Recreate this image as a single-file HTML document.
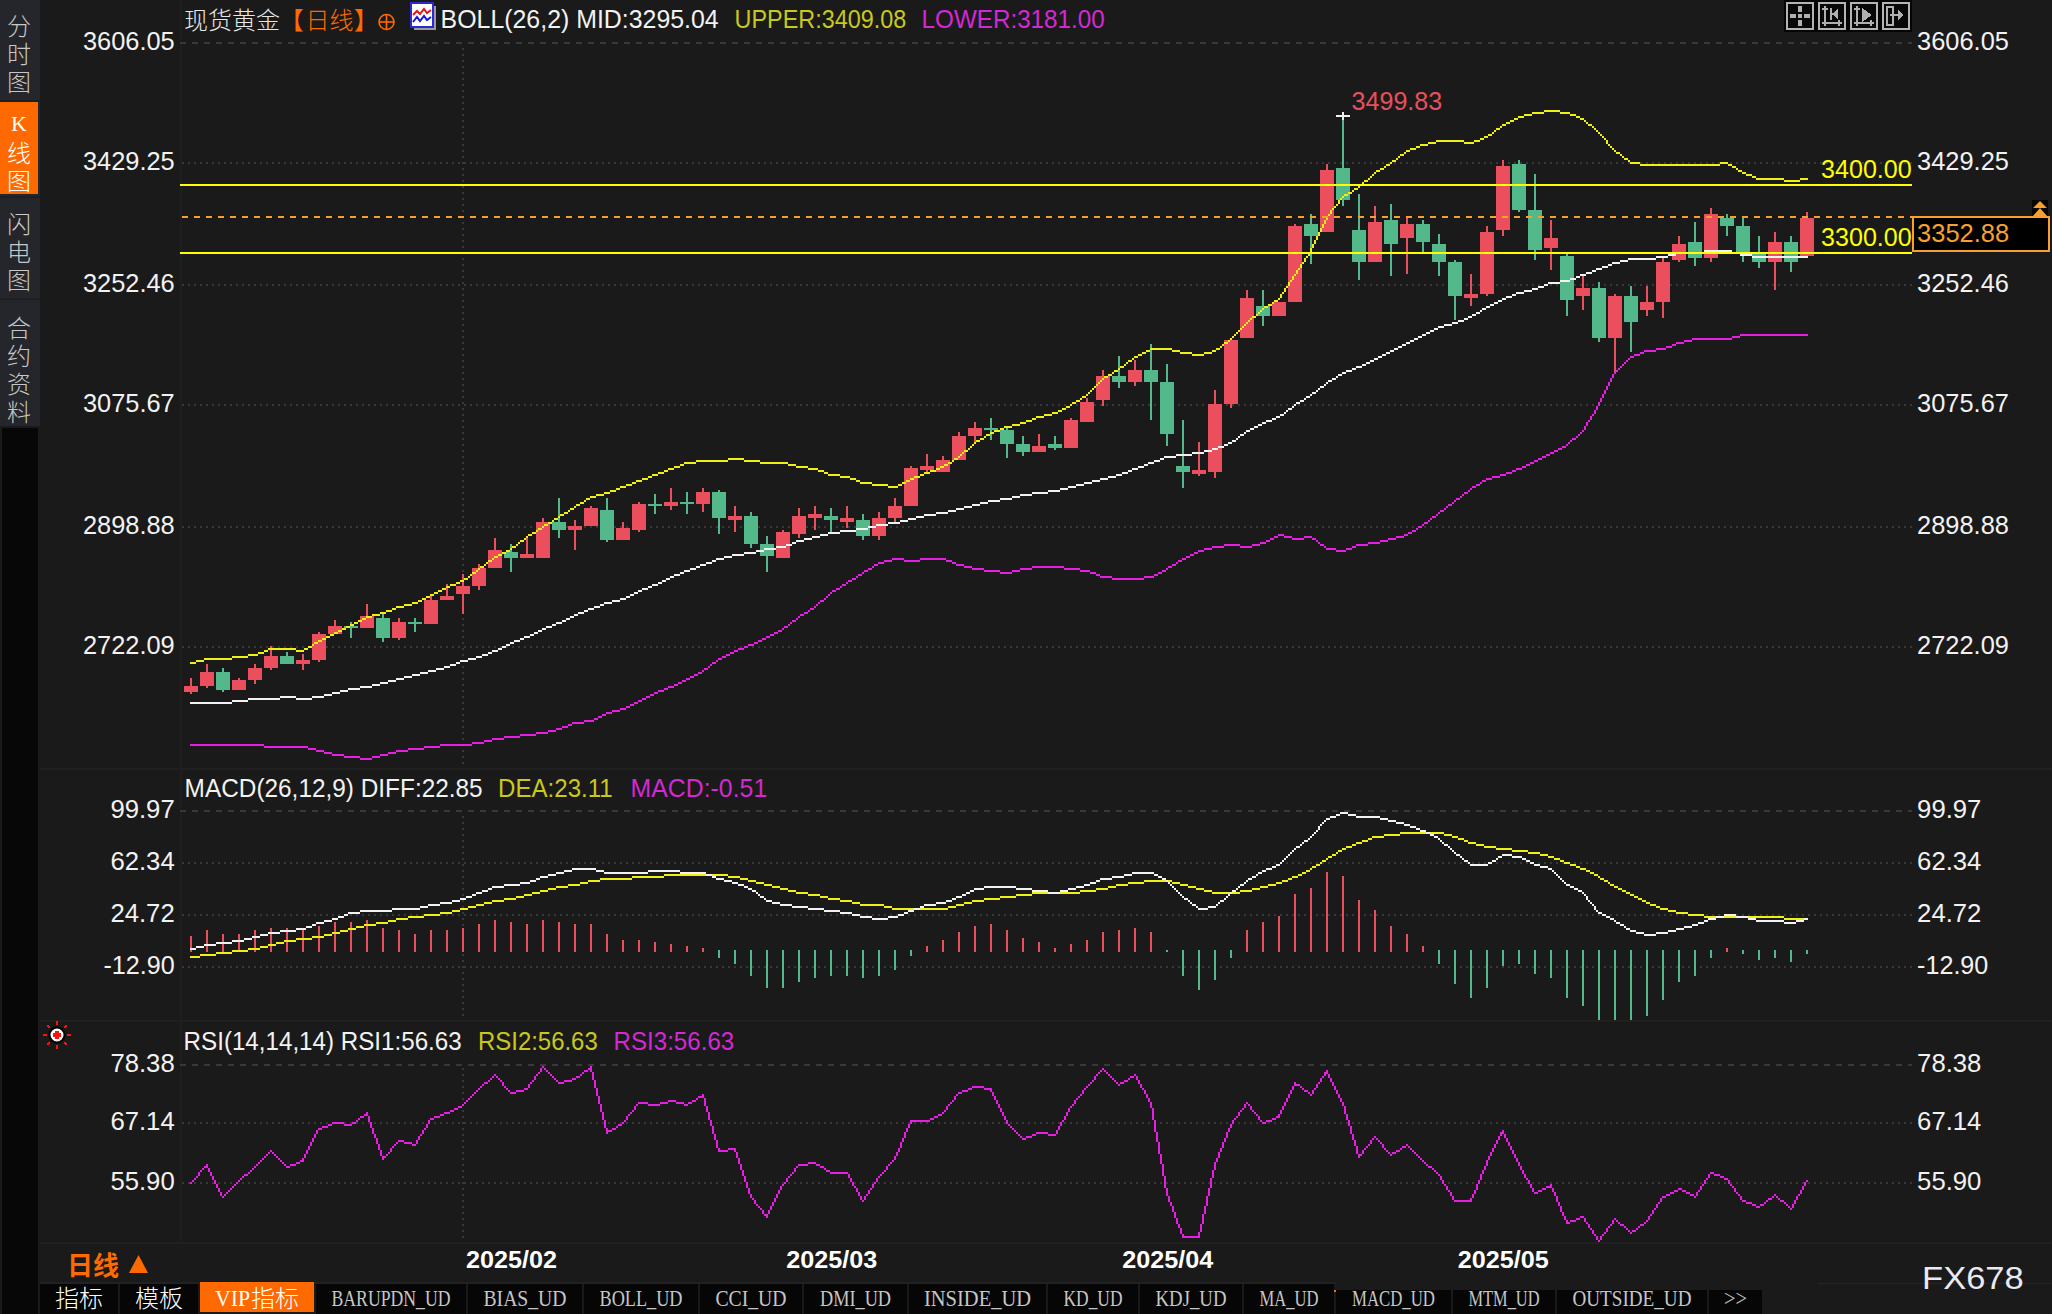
<!DOCTYPE html>
<html lang="zh-CN"><head><meta charset="utf-8"><title>现货黄金 日线</title>
<style>
html,body{margin:0;padding:0;background:#1a1a1a;}
#app{position:relative;width:2052px;height:1314px;overflow:hidden;background:#1a1a1a;font-family:'Liberation Sans', 'Noto Sans CJK SC', sans-serif;}
#side{position:absolute;left:0;top:0;width:40px;height:426px;background:#24262b;}
.sv{position:absolute;left:0;width:38px;text-align:center;color:#c8c8c8;font-size:24px;line-height:28px;font-weight:300;font-family:'Liberation Sans', 'Noto Sans CJK SC', sans-serif;}
.sv.on{background:#ff6a00;color:#fff;}
.sep{position:absolute;left:0;width:40px;height:2px;background:#1d1f23;}
#blk{position:absolute;left:2px;top:428px;width:36px;height:886px;background:#070707;}
.tab{position:absolute;box-sizing:border-box;text-align:center;white-space:nowrap;overflow:hidden;background:#060606;}
.tw{color:#fff;font-size:24px;font-family:'Liberation Sans', 'Noto Sans CJK SC', sans-serif;font-weight:300;}
.to{color:#fff;font-size:24px;background:#ff6a00;font-family:'Liberation Mono', 'Noto Sans CJK SC', monospace;font-weight:300;letter-spacing:-2.4px;}
.to b{font-weight:300;letter-spacing:0;font-family:'Liberation Sans', 'Noto Sans CJK SC', sans-serif;}
.tg{color:#c4c4c4;font-size:24px;font-family:'Liberation Mono', 'Noto Sans CJK SC', monospace;letter-spacing:-2.4px;}
#tabline{position:absolute;left:40px;top:1282px;width:1296px;height:2px;background:#222;}
</style></head><body>
<div id="app">
<div id="side">
<div class="sv" style="top:13px;height:85px">分<br>时<br>图</div>
<div class="sep" style="top:100px"></div>
<div class="sv on" style="top:102px;height:92px;padding-top:0"><span style="font-family:'Liberation Serif',serif;font-size:22px;line-height:43px;display:block;height:36px">K</span><div style="position:relative;top:2px">线<br>图</div></div>
<div class="sep" style="top:196px"></div>
<div class="sv" style="top:211px;height:85px">闪<br>电<br>图</div>
<div class="sep" style="top:298px"></div>
<div class="sv" style="top:315px;height:111px">合<br>约<br>资<br>料</div>
</div>
<div id="blk"></div>
<svg width="2052" height="1314" viewBox="0 0 2052 1314" style="position:absolute;left:0;top:0">
<g fill="#202020">
<rect x="40" y="768" width="2012" height="2"/>
<rect x="40" y="1020" width="2012" height="2"/>
<rect x="40" y="1242" width="2012" height="2"/>
<rect x="180" y="0" width="2" height="1244" fill="#1e1e1e"/>
</g>
<g stroke="#3a3a3a" stroke-width="2" fill="none" shape-rendering="crispEdges">
<line x1="180" y1="43" x2="1912" y2="43" stroke-dasharray="6 6" stroke="#383838"/>
<line x1="180" y1="811" x2="1912" y2="811" stroke-dasharray="6 6" stroke="#383838"/>
<line x1="180" y1="1065" x2="1912" y2="1065" stroke-dasharray="6 6" stroke="#383838"/>
<line x1="182" y1="163" x2="1912" y2="163" stroke-dasharray="2 4" stroke="#383838"/>
<line x1="182" y1="285" x2="1912" y2="285" stroke-dasharray="2 4" stroke="#383838"/>
<line x1="182" y1="405" x2="1912" y2="405" stroke-dasharray="2 4" stroke="#383838"/>
<line x1="182" y1="527" x2="1912" y2="527" stroke-dasharray="2 4" stroke="#383838"/>
<line x1="182" y1="647" x2="1912" y2="647" stroke-dasharray="2 4" stroke="#383838"/>
<line x1="182" y1="863" x2="1912" y2="863" stroke-dasharray="2 4" stroke="#383838"/>
<line x1="182" y1="915" x2="1912" y2="915" stroke-dasharray="2 4" stroke="#383838"/>
<line x1="182" y1="967" x2="1912" y2="967" stroke-dasharray="2 4" stroke="#383838"/>
<line x1="182" y1="1123" x2="1912" y2="1123" stroke-dasharray="2 4" stroke="#383838"/>
<line x1="182" y1="1183" x2="1912" y2="1183" stroke-dasharray="2 4" stroke="#383838"/>
<line x1="463" y1="48" x2="463" y2="764" stroke-dasharray="2 4" stroke="#383838"/>
<line x1="463" y1="816" x2="463" y2="1018" stroke-dasharray="2 4" stroke="#383838"/>
<line x1="463" y1="1068" x2="463" y2="1242" stroke-dasharray="2 4" stroke="#383838"/>
</g>
<g shape-rendering="crispEdges">
<rect x="190" y="678" width="2" height="16" fill="#eb4f5d"/>
<rect x="184" y="686" width="14" height="6" fill="#eb4f5d"/>
<rect x="206" y="664" width="2" height="24" fill="#eb4f5d"/>
<rect x="200" y="672" width="14" height="14" fill="#eb4f5d"/>
<rect x="222" y="668" width="2" height="24" fill="#53b98b"/>
<rect x="216" y="672" width="14" height="18" fill="#53b98b"/>
<rect x="238" y="678" width="2" height="12" fill="#eb4f5d"/>
<rect x="232" y="680" width="14" height="10" fill="#eb4f5d"/>
<rect x="254" y="664" width="2" height="20" fill="#eb4f5d"/>
<rect x="248" y="668" width="14" height="12" fill="#eb4f5d"/>
<rect x="270" y="646" width="2" height="24" fill="#eb4f5d"/>
<rect x="264" y="656" width="14" height="12" fill="#eb4f5d"/>
<rect x="286" y="652" width="2" height="12" fill="#53b98b"/>
<rect x="280" y="656" width="14" height="8" fill="#53b98b"/>
<rect x="302" y="654" width="2" height="16" fill="#eb4f5d"/>
<rect x="296" y="660" width="14" height="4" fill="#eb4f5d"/>
<rect x="318" y="632" width="2" height="30" fill="#eb4f5d"/>
<rect x="312" y="634" width="14" height="26" fill="#eb4f5d"/>
<rect x="334" y="620" width="2" height="14" fill="#eb4f5d"/>
<rect x="328" y="626" width="14" height="8" fill="#eb4f5d"/>
<rect x="350" y="622" width="2" height="16" fill="#53b98b"/>
<rect x="344" y="626" width="14" height="2" fill="#53b98b"/>
<rect x="366" y="604" width="2" height="24" fill="#eb4f5d"/>
<rect x="360" y="616" width="14" height="12" fill="#eb4f5d"/>
<rect x="382" y="614" width="2" height="28" fill="#53b98b"/>
<rect x="376" y="618" width="14" height="20" fill="#53b98b"/>
<rect x="398" y="618" width="2" height="22" fill="#eb4f5d"/>
<rect x="392" y="622" width="14" height="16" fill="#eb4f5d"/>
<rect x="414" y="618" width="2" height="14" fill="#53b98b"/>
<rect x="408" y="622" width="14" height="2" fill="#53b98b"/>
<rect x="430" y="596" width="2" height="28" fill="#eb4f5d"/>
<rect x="424" y="600" width="14" height="24" fill="#eb4f5d"/>
<rect x="446" y="584" width="2" height="16" fill="#eb4f5d"/>
<rect x="440" y="596" width="14" height="4" fill="#eb4f5d"/>
<rect x="462" y="574" width="2" height="40" fill="#eb4f5d"/>
<rect x="456" y="586" width="14" height="8" fill="#eb4f5d"/>
<rect x="478" y="564" width="2" height="26" fill="#eb4f5d"/>
<rect x="472" y="568" width="14" height="18" fill="#eb4f5d"/>
<rect x="494" y="538" width="2" height="30" fill="#eb4f5d"/>
<rect x="488" y="550" width="14" height="18" fill="#eb4f5d"/>
<rect x="510" y="544" width="2" height="28" fill="#53b98b"/>
<rect x="504" y="552" width="14" height="6" fill="#53b98b"/>
<rect x="526" y="536" width="2" height="22" fill="#eb4f5d"/>
<rect x="520" y="554" width="14" height="4" fill="#eb4f5d"/>
<rect x="542" y="518" width="2" height="40" fill="#eb4f5d"/>
<rect x="536" y="522" width="14" height="36" fill="#eb4f5d"/>
<rect x="558" y="498" width="2" height="40" fill="#53b98b"/>
<rect x="552" y="522" width="14" height="8" fill="#53b98b"/>
<rect x="574" y="520" width="2" height="30" fill="#eb4f5d"/>
<rect x="568" y="526" width="14" height="4" fill="#eb4f5d"/>
<rect x="590" y="506" width="2" height="20" fill="#eb4f5d"/>
<rect x="584" y="508" width="14" height="18" fill="#eb4f5d"/>
<rect x="606" y="498" width="2" height="44" fill="#53b98b"/>
<rect x="600" y="510" width="14" height="30" fill="#53b98b"/>
<rect x="622" y="522" width="2" height="18" fill="#eb4f5d"/>
<rect x="616" y="528" width="14" height="12" fill="#eb4f5d"/>
<rect x="638" y="502" width="2" height="30" fill="#eb4f5d"/>
<rect x="632" y="504" width="14" height="26" fill="#eb4f5d"/>
<rect x="654" y="494" width="2" height="20" fill="#53b98b"/>
<rect x="648" y="504" width="14" height="2" fill="#53b98b"/>
<rect x="670" y="488" width="2" height="22" fill="#eb4f5d"/>
<rect x="664" y="502" width="14" height="4" fill="#eb4f5d"/>
<rect x="686" y="492" width="2" height="22" fill="#53b98b"/>
<rect x="680" y="502" width="14" height="2" fill="#53b98b"/>
<rect x="702" y="488" width="2" height="24" fill="#eb4f5d"/>
<rect x="696" y="492" width="14" height="12" fill="#eb4f5d"/>
<rect x="718" y="490" width="2" height="44" fill="#53b98b"/>
<rect x="712" y="492" width="14" height="26" fill="#53b98b"/>
<rect x="734" y="506" width="2" height="26" fill="#eb4f5d"/>
<rect x="728" y="516" width="14" height="4" fill="#eb4f5d"/>
<rect x="750" y="512" width="2" height="36" fill="#53b98b"/>
<rect x="744" y="516" width="14" height="28" fill="#53b98b"/>
<rect x="766" y="536" width="2" height="36" fill="#53b98b"/>
<rect x="760" y="544" width="14" height="12" fill="#53b98b"/>
<rect x="782" y="530" width="2" height="28" fill="#eb4f5d"/>
<rect x="776" y="532" width="14" height="26" fill="#eb4f5d"/>
<rect x="798" y="508" width="2" height="30" fill="#eb4f5d"/>
<rect x="792" y="516" width="14" height="18" fill="#eb4f5d"/>
<rect x="814" y="506" width="2" height="24" fill="#eb4f5d"/>
<rect x="808" y="514" width="14" height="4" fill="#eb4f5d"/>
<rect x="830" y="508" width="2" height="24" fill="#53b98b"/>
<rect x="824" y="516" width="14" height="4" fill="#53b98b"/>
<rect x="846" y="506" width="2" height="22" fill="#eb4f5d"/>
<rect x="840" y="518" width="14" height="4" fill="#eb4f5d"/>
<rect x="862" y="514" width="2" height="26" fill="#53b98b"/>
<rect x="856" y="520" width="14" height="16" fill="#53b98b"/>
<rect x="878" y="512" width="2" height="28" fill="#eb4f5d"/>
<rect x="872" y="518" width="14" height="18" fill="#eb4f5d"/>
<rect x="894" y="498" width="2" height="24" fill="#eb4f5d"/>
<rect x="888" y="506" width="14" height="12" fill="#eb4f5d"/>
<rect x="910" y="466" width="2" height="40" fill="#eb4f5d"/>
<rect x="904" y="468" width="14" height="38" fill="#eb4f5d"/>
<rect x="926" y="454" width="2" height="18" fill="#eb4f5d"/>
<rect x="920" y="466" width="14" height="4" fill="#eb4f5d"/>
<rect x="942" y="456" width="2" height="16" fill="#eb4f5d"/>
<rect x="936" y="460" width="14" height="12" fill="#eb4f5d"/>
<rect x="958" y="432" width="2" height="28" fill="#eb4f5d"/>
<rect x="952" y="436" width="14" height="24" fill="#eb4f5d"/>
<rect x="974" y="422" width="2" height="22" fill="#eb4f5d"/>
<rect x="968" y="428" width="14" height="8" fill="#eb4f5d"/>
<rect x="990" y="418" width="2" height="22" fill="#53b98b"/>
<rect x="984" y="428" width="14" height="2" fill="#53b98b"/>
<rect x="1006" y="426" width="2" height="32" fill="#53b98b"/>
<rect x="1000" y="430" width="14" height="14" fill="#53b98b"/>
<rect x="1022" y="436" width="2" height="20" fill="#53b98b"/>
<rect x="1016" y="444" width="14" height="8" fill="#53b98b"/>
<rect x="1038" y="434" width="2" height="18" fill="#eb4f5d"/>
<rect x="1032" y="446" width="14" height="6" fill="#eb4f5d"/>
<rect x="1054" y="436" width="2" height="14" fill="#53b98b"/>
<rect x="1048" y="444" width="14" height="4" fill="#53b98b"/>
<rect x="1070" y="418" width="2" height="30" fill="#eb4f5d"/>
<rect x="1064" y="420" width="14" height="28" fill="#eb4f5d"/>
<rect x="1086" y="398" width="2" height="24" fill="#eb4f5d"/>
<rect x="1080" y="402" width="14" height="20" fill="#eb4f5d"/>
<rect x="1102" y="370" width="2" height="36" fill="#eb4f5d"/>
<rect x="1096" y="376" width="14" height="24" fill="#eb4f5d"/>
<rect x="1118" y="356" width="2" height="32" fill="#53b98b"/>
<rect x="1112" y="376" width="14" height="6" fill="#53b98b"/>
<rect x="1134" y="360" width="2" height="26" fill="#eb4f5d"/>
<rect x="1128" y="370" width="14" height="12" fill="#eb4f5d"/>
<rect x="1150" y="344" width="2" height="76" fill="#53b98b"/>
<rect x="1144" y="370" width="14" height="12" fill="#53b98b"/>
<rect x="1166" y="364" width="2" height="82" fill="#53b98b"/>
<rect x="1160" y="382" width="14" height="52" fill="#53b98b"/>
<rect x="1182" y="420" width="2" height="68" fill="#53b98b"/>
<rect x="1176" y="466" width="14" height="6" fill="#53b98b"/>
<rect x="1198" y="442" width="2" height="34" fill="#eb4f5d"/>
<rect x="1192" y="470" width="14" height="4" fill="#eb4f5d"/>
<rect x="1214" y="390" width="2" height="88" fill="#eb4f5d"/>
<rect x="1208" y="404" width="14" height="68" fill="#eb4f5d"/>
<rect x="1230" y="340" width="2" height="68" fill="#eb4f5d"/>
<rect x="1224" y="340" width="14" height="64" fill="#eb4f5d"/>
<rect x="1246" y="290" width="2" height="48" fill="#eb4f5d"/>
<rect x="1240" y="298" width="14" height="40" fill="#eb4f5d"/>
<rect x="1262" y="290" width="2" height="36" fill="#53b98b"/>
<rect x="1256" y="306" width="14" height="10" fill="#53b98b"/>
<rect x="1278" y="302" width="2" height="14" fill="#eb4f5d"/>
<rect x="1272" y="302" width="14" height="14" fill="#eb4f5d"/>
<rect x="1294" y="224" width="2" height="78" fill="#eb4f5d"/>
<rect x="1288" y="226" width="14" height="76" fill="#eb4f5d"/>
<rect x="1310" y="214" width="2" height="50" fill="#53b98b"/>
<rect x="1304" y="224" width="14" height="12" fill="#53b98b"/>
<rect x="1326" y="164" width="2" height="68" fill="#eb4f5d"/>
<rect x="1320" y="170" width="14" height="62" fill="#eb4f5d"/>
<rect x="1342" y="116" width="2" height="90" fill="#53b98b"/>
<rect x="1336" y="168" width="14" height="32" fill="#53b98b"/>
<rect x="1358" y="194" width="2" height="86" fill="#53b98b"/>
<rect x="1352" y="230" width="14" height="32" fill="#53b98b"/>
<rect x="1374" y="206" width="2" height="56" fill="#eb4f5d"/>
<rect x="1368" y="222" width="14" height="40" fill="#eb4f5d"/>
<rect x="1390" y="204" width="2" height="72" fill="#53b98b"/>
<rect x="1384" y="220" width="14" height="24" fill="#53b98b"/>
<rect x="1406" y="216" width="2" height="58" fill="#eb4f5d"/>
<rect x="1400" y="224" width="14" height="14" fill="#eb4f5d"/>
<rect x="1422" y="220" width="2" height="32" fill="#53b98b"/>
<rect x="1416" y="224" width="14" height="18" fill="#53b98b"/>
<rect x="1438" y="234" width="2" height="42" fill="#53b98b"/>
<rect x="1432" y="244" width="14" height="18" fill="#53b98b"/>
<rect x="1454" y="260" width="2" height="60" fill="#53b98b"/>
<rect x="1448" y="262" width="14" height="34" fill="#53b98b"/>
<rect x="1470" y="274" width="2" height="32" fill="#eb4f5d"/>
<rect x="1464" y="294" width="14" height="4" fill="#eb4f5d"/>
<rect x="1486" y="226" width="2" height="70" fill="#eb4f5d"/>
<rect x="1480" y="232" width="14" height="62" fill="#eb4f5d"/>
<rect x="1502" y="160" width="2" height="76" fill="#eb4f5d"/>
<rect x="1496" y="166" width="14" height="64" fill="#eb4f5d"/>
<rect x="1518" y="160" width="2" height="52" fill="#53b98b"/>
<rect x="1512" y="164" width="14" height="46" fill="#53b98b"/>
<rect x="1534" y="174" width="2" height="86" fill="#53b98b"/>
<rect x="1528" y="210" width="14" height="40" fill="#53b98b"/>
<rect x="1550" y="220" width="2" height="50" fill="#eb4f5d"/>
<rect x="1544" y="238" width="14" height="10" fill="#eb4f5d"/>
<rect x="1566" y="254" width="2" height="62" fill="#53b98b"/>
<rect x="1560" y="256" width="14" height="44" fill="#53b98b"/>
<rect x="1582" y="276" width="2" height="34" fill="#eb4f5d"/>
<rect x="1576" y="288" width="14" height="8" fill="#eb4f5d"/>
<rect x="1598" y="282" width="2" height="60" fill="#53b98b"/>
<rect x="1592" y="288" width="14" height="50" fill="#53b98b"/>
<rect x="1614" y="294" width="2" height="80" fill="#eb4f5d"/>
<rect x="1608" y="296" width="14" height="42" fill="#eb4f5d"/>
<rect x="1630" y="286" width="2" height="66" fill="#53b98b"/>
<rect x="1624" y="296" width="14" height="26" fill="#53b98b"/>
<rect x="1646" y="286" width="2" height="30" fill="#eb4f5d"/>
<rect x="1640" y="302" width="14" height="8" fill="#eb4f5d"/>
<rect x="1662" y="258" width="2" height="60" fill="#eb4f5d"/>
<rect x="1656" y="262" width="14" height="40" fill="#eb4f5d"/>
<rect x="1678" y="236" width="2" height="26" fill="#eb4f5d"/>
<rect x="1672" y="244" width="14" height="16" fill="#eb4f5d"/>
<rect x="1694" y="222" width="2" height="44" fill="#53b98b"/>
<rect x="1688" y="242" width="14" height="16" fill="#53b98b"/>
<rect x="1710" y="208" width="2" height="54" fill="#eb4f5d"/>
<rect x="1704" y="214" width="14" height="44" fill="#eb4f5d"/>
<rect x="1726" y="214" width="2" height="22" fill="#53b98b"/>
<rect x="1720" y="218" width="14" height="8" fill="#53b98b"/>
<rect x="1742" y="218" width="2" height="44" fill="#53b98b"/>
<rect x="1736" y="226" width="14" height="28" fill="#53b98b"/>
<rect x="1758" y="236" width="2" height="32" fill="#53b98b"/>
<rect x="1752" y="254" width="14" height="8" fill="#53b98b"/>
<rect x="1774" y="232" width="2" height="58" fill="#eb4f5d"/>
<rect x="1768" y="242" width="14" height="20" fill="#eb4f5d"/>
<rect x="1790" y="236" width="2" height="36" fill="#53b98b"/>
<rect x="1784" y="242" width="14" height="20" fill="#53b98b"/>
<rect x="1806" y="212" width="2" height="44" fill="#eb4f5d"/>
<rect x="1800" y="218" width="14" height="38" fill="#eb4f5d"/>
</g>
<path d="M190 744h74v2h-74zM264 746h44v2h-44zM308 748h8v2h-8zM316 750h8v2h-8zM324 752h8v2h-8zM332 754h12v2h-12zM344 756h16v2h-16zM360 758h12v2h-12zM372 756h8v2h-8zM380 754h8v2h-8zM388 752h8v2h-8zM396 750h12v2h-12zM408 748h16v2h-16zM424 746h16v2h-16zM440 744h32v2h-32zM472 742h12v2h-12zM484 740h8v2h-8zM492 738h12v2h-12zM504 736h16v2h-16zM520 734h16v2h-16zM536 732h12v2h-12zM548 730h8v2h-8zM556 728h6v2h-6zM562 726h6v2h-6zM568 724h4v2h-4zM572 722h12v2h-12zM584 720h10v2h-10zM594 718h4v2h-4zM598 716h4v2h-4zM602 714h4v2h-4zM606 712h6v2h-6zM612 710h8v2h-8zM620 708h6v2h-6zM626 706h4v2h-4zM630 704h4v2h-4zM634 702h4v2h-4zM638 700h4v2h-4zM642 698h4v2h-4zM646 696h4v2h-4zM650 694h4v2h-4zM654 692h4v2h-4zM658 690h6v2h-6zM664 688h4v2h-4zM668 686h6v2h-6zM674 684h4v2h-4zM678 682h4v2h-4zM682 680h4v2h-4zM686 678h4v2h-4zM690 676h4v2h-4zM694 674h4v2h-4zM698 672h4v2h-4zM702 670h2v2h-2zM704 668h4v2h-4zM708 666h2v2h-2zM710 664h2v2h-2zM712 662h4v2h-4zM716 660h2v2h-2zM718 658h4v2h-4zM722 656h4v2h-4zM726 654h4v2h-4zM730 652h4v2h-4zM734 650h4v2h-4zM738 648h6v2h-6zM744 646h4v2h-4zM748 644h6v2h-6zM754 642h4v2h-4zM758 640h4v2h-4zM762 638h4v2h-4zM766 636h4v2h-4zM770 634h4v2h-4zM774 632h4v2h-4zM778 630h4v2h-4zM782 628h2v2h-2zM784 626h4v2h-4zM788 624h2v2h-2zM790 622h2v2h-2zM792 620h4v2h-4zM796 618h2v2h-2zM798 616h2v2h-2zM800 614h4v2h-4zM804 612h4v2h-4zM808 610h2v2h-2zM810 608h4v2h-4zM814 606h2v2h-2zM816 604h2v2h-2zM818 602h2v2h-2zM820 600h4v2h-4zM824 598h2v2h-2zM826 596h2v2h-2zM828 594h2v2h-2zM830 592h2v2h-2zM832 590h4v2h-4zM836 588h4v2h-4zM840 586h2v2h-2zM842 584h4v2h-4zM846 582h2v2h-2zM848 580h4v2h-4zM852 578h4v2h-4zM856 576h2v2h-2zM858 574h4v2h-4zM862 572h2v2h-2zM864 570h4v2h-4zM868 568h4v2h-4zM872 566h2v2h-2zM874 564h4v2h-4zM878 562h6v2h-6zM884 560h8v2h-8zM892 558h12v2h-12zM904 560h16v2h-16zM920 558h26v2h-26zM946 560h6v2h-6zM952 562h4v2h-4zM956 564h8v2h-8zM964 566h8v2h-8zM972 568h12v2h-12zM984 570h16v2h-16zM1000 572h12v2h-12zM1012 570h8v2h-8zM1020 568h12v2h-12zM1032 566h32v2h-32zM1064 568h16v2h-16zM1080 570h10v2h-10zM1090 572h6v2h-6zM1096 574h4v2h-4zM1100 576h12v2h-12zM1112 578h32v2h-32zM1144 576h10v2h-10zM1154 574h4v2h-4zM1158 572h4v2h-4zM1162 570h4v2h-4zM1166 568h2v2h-2zM1168 566h4v2h-4zM1172 564h4v2h-4zM1176 562h2v2h-2zM1178 560h4v2h-4zM1182 558h4v2h-4zM1186 556h4v2h-4zM1190 554h4v2h-4zM1194 552h4v2h-4zM1198 550h6v2h-6zM1204 548h8v2h-8zM1212 546h12v2h-12zM1224 544h16v2h-16zM1240 546h12v2h-12zM1252 544h8v2h-8zM1260 542h6v2h-6zM1266 540h4v2h-4zM1270 538h4v2h-4zM1274 536h4v2h-4zM1278 534h6v2h-6zM1284 536h8v2h-8zM1292 538h12v2h-12zM1304 536h8v2h-8zM1312 538h4v2h-4zM1316 540h2v2h-2zM1318 542h2v2h-2zM1320 544h4v2h-4zM1324 546h2v2h-2zM1326 548h10v2h-10zM1336 550h10v2h-10zM1346 548h6v2h-6zM1352 546h4v2h-4zM1356 544h12v2h-12zM1368 542h12v2h-12zM1380 540h8v2h-8zM1388 538h8v2h-8zM1396 536h8v2h-8zM1404 534h4v2h-4zM1408 532h4v2h-4zM1412 530h4v2h-4zM1416 528h2v2h-2zM1418 526h4v2h-4zM1422 524h2v2h-2zM1424 522h4v2h-4zM1428 520h2v2h-2zM1430 518h2v2h-2zM1432 516h4v2h-4zM1436 514h2v2h-2zM1438 512h2v2h-2zM1440 510h4v2h-4zM1444 508h2v2h-2zM1446 506h2v2h-2zM1448 504h4v2h-4zM1452 502h2v2h-2zM1454 500h2v2h-2zM1456 498h4v2h-4zM1460 496h2v2h-2zM1462 494h2v2h-2zM1464 492h4v2h-4zM1468 490h2v2h-2zM1470 488h2v2h-2zM1472 486h4v2h-4zM1476 484h4v2h-4zM1480 482h2v2h-2zM1482 480h4v2h-4zM1486 478h6v2h-6zM1492 476h8v2h-8zM1500 474h6v2h-6zM1506 472h6v2h-6zM1512 470h4v2h-4zM1516 468h6v2h-6zM1522 466h4v2h-4zM1526 464h4v2h-4zM1530 462h4v2h-4zM1534 460h4v2h-4zM1538 458h4v2h-4zM1542 456h4v2h-4zM1546 454h4v2h-4zM1550 452h4v2h-4zM1554 450h4v2h-4zM1558 448h4v2h-4zM1562 446h4v2h-4zM1566 444h2v2h-2zM1568 442h2v2h-2zM1570 440h2v2h-2zM1572 438h4v2h-4zM1576 436h2v2h-2zM1578 434h2v2h-2zM1580 432h2v2h-2zM1582 430h2v2h-2zM1584 426h2v4h-2zM1586 422h2v4h-2zM1588 420h2v2h-2zM1590 416h2v4h-2zM1592 414h2v2h-2zM1594 410h2v4h-2zM1596 406h2v4h-2zM1598 402h2v4h-2zM1600 398h2v4h-2zM1602 394h2v4h-2zM1604 390h2v4h-2zM1606 386h2v4h-2zM1608 382h2v4h-2zM1610 378h2v4h-2zM1612 374h2v4h-2zM1614 372h2v2h-2zM1616 370h2v2h-2zM1618 368h2v2h-2zM1620 366h2v2h-2zM1622 364h2v2h-2zM1624 362h2v2h-2zM1626 360h2v2h-2zM1628 358h2v2h-2zM1630 356h4v2h-4zM1634 354h6v2h-6zM1640 352h4v2h-4zM1644 350h12v2h-12zM1656 348h10v2h-10zM1666 346h6v2h-6zM1672 344h4v2h-4zM1676 342h8v2h-8zM1684 340h8v2h-8zM1692 338h40v2h-40zM1732 336h8v2h-8zM1740 334h68v2h-68z" fill="#e61ee6" shape-rendering="crispEdges"/>
<path d="M190 702h42v2h-42zM232 700h16v2h-16zM248 698h32v2h-32zM280 696h16v2h-16zM296 698h16v2h-16zM312 696h12v2h-12zM324 694h8v2h-8zM332 692h8v2h-8zM340 690h8v2h-8zM348 688h12v2h-12zM360 686h12v2h-12zM372 684h8v2h-8zM380 682h8v2h-8zM388 680h8v2h-8zM396 678h8v2h-8zM404 676h8v2h-8zM412 674h8v2h-8zM420 672h8v2h-8zM428 670h8v2h-8zM436 668h8v2h-8zM444 666h6v2h-6zM450 664h6v2h-6zM456 662h4v2h-4zM460 660h8v2h-8zM468 658h8v2h-8zM476 656h6v2h-6zM482 654h6v2h-6zM488 652h4v2h-4zM492 650h6v2h-6zM498 648h4v2h-4zM502 646h4v2h-4zM506 644h4v2h-4zM510 642h4v2h-4zM514 640h6v2h-6zM520 638h4v2h-4zM524 636h6v2h-6zM530 634h4v2h-4zM534 632h4v2h-4zM538 630h4v2h-4zM542 628h4v2h-4zM546 626h6v2h-6zM552 624h4v2h-4zM556 622h6v2h-6zM562 620h4v2h-4zM566 618h4v2h-4zM570 616h4v2h-4zM574 614h4v2h-4zM578 612h6v2h-6zM584 610h4v2h-4zM588 608h6v2h-6zM594 606h6v2h-6zM600 604h4v2h-4zM604 602h8v2h-8zM612 600h8v2h-8zM620 598h6v2h-6zM626 596h4v2h-4zM630 594h4v2h-4zM634 592h4v2h-4zM638 590h4v2h-4zM642 588h6v2h-6zM648 586h4v2h-4zM652 584h6v2h-6zM658 582h4v2h-4zM662 580h4v2h-4zM666 578h4v2h-4zM670 576h4v2h-4zM674 574h6v2h-6zM680 572h4v2h-4zM684 570h6v2h-6zM690 568h6v2h-6zM696 566h4v2h-4zM700 564h6v2h-6zM706 562h6v2h-6zM712 560h4v2h-4zM716 558h8v2h-8zM724 556h8v2h-8zM732 554h12v2h-12zM744 552h12v2h-12zM756 550h8v2h-8zM764 548h12v2h-12zM776 546h10v2h-10zM786 544h6v2h-6zM792 542h4v2h-4zM796 540h8v2h-8zM804 538h8v2h-8zM812 536h8v2h-8zM820 534h8v2h-8zM828 532h12v2h-12zM840 530h16v2h-16zM856 528h12v2h-12zM868 526h8v2h-8zM876 524h12v2h-12zM888 522h12v2h-12zM900 520h8v2h-8zM908 518h8v2h-8zM916 516h8v2h-8zM924 514h12v2h-12zM936 512h12v2h-12zM948 510h8v2h-8zM956 508h8v2h-8zM964 506h8v2h-8zM972 504h8v2h-8zM980 502h8v2h-8zM988 500h12v2h-12zM1000 498h12v2h-12zM1012 496h8v2h-8zM1020 494h12v2h-12zM1032 492h16v2h-16zM1048 490h12v2h-12zM1060 488h8v2h-8zM1068 486h8v2h-8zM1076 484h8v2h-8zM1084 482h8v2h-8zM1092 480h8v2h-8zM1100 478h8v2h-8zM1108 476h8v2h-8zM1116 474h6v2h-6zM1122 472h6v2h-6zM1128 470h4v2h-4zM1132 468h6v2h-6zM1138 466h6v2h-6zM1144 464h4v2h-4zM1148 462h6v2h-6zM1154 460h6v2h-6zM1160 458h4v2h-4zM1164 456h12v2h-12zM1176 454h16v2h-16zM1192 452h12v2h-12zM1204 450h8v2h-8zM1212 448h6v2h-6zM1218 446h6v2h-6zM1224 444h4v2h-4zM1228 442h4v2h-4zM1232 440h4v2h-4zM1236 438h2v2h-2zM1238 436h2v2h-2zM1240 434h4v2h-4zM1244 432h2v2h-2zM1246 430h4v2h-4zM1250 428h4v2h-4zM1254 426h4v2h-4zM1258 424h4v2h-4zM1262 422h4v2h-4zM1266 420h6v2h-6zM1272 418h4v2h-4zM1276 416h4v2h-4zM1280 414h4v2h-4zM1284 412h2v2h-2zM1286 410h2v2h-2zM1288 408h4v2h-4zM1292 406h2v2h-2zM1294 404h2v2h-2zM1296 402h4v2h-4zM1300 400h4v2h-4zM1304 398h2v2h-2zM1306 396h4v2h-4zM1310 394h2v2h-2zM1312 392h4v2h-4zM1316 390h2v2h-2zM1318 388h2v2h-2zM1320 386h4v2h-4zM1324 384h2v2h-2zM1326 382h2v2h-2zM1328 380h4v2h-4zM1332 378h4v2h-4zM1336 376h2v2h-2zM1338 374h4v2h-4zM1342 372h4v2h-4zM1346 370h6v2h-6zM1352 368h4v2h-4zM1356 366h6v2h-6zM1362 364h4v2h-4zM1366 362h4v2h-4zM1370 360h4v2h-4zM1374 358h4v2h-4zM1378 356h4v2h-4zM1382 354h4v2h-4zM1386 352h4v2h-4zM1390 350h4v2h-4zM1394 348h4v2h-4zM1398 346h4v2h-4zM1402 344h4v2h-4zM1406 342h4v2h-4zM1410 340h4v2h-4zM1414 338h4v2h-4zM1418 336h4v2h-4zM1422 334h4v2h-4zM1426 332h4v2h-4zM1430 330h4v2h-4zM1434 328h4v2h-4zM1438 326h6v2h-6zM1444 324h8v2h-8zM1452 322h6v2h-6zM1458 320h6v2h-6zM1464 318h4v2h-4zM1468 316h4v2h-4zM1472 314h4v2h-4zM1476 312h4v2h-4zM1480 310h2v2h-2zM1482 308h4v2h-4zM1486 306h4v2h-4zM1490 304h4v2h-4zM1494 302h4v2h-4zM1498 300h4v2h-4zM1502 298h4v2h-4zM1506 296h6v2h-6zM1512 294h4v2h-4zM1516 292h8v2h-8zM1524 290h8v2h-8zM1532 288h6v2h-6zM1538 286h6v2h-6zM1544 284h4v2h-4zM1548 282h12v2h-12zM1560 280h10v2h-10zM1570 278h6v2h-6zM1576 276h4v2h-4zM1580 274h6v2h-6zM1586 272h6v2h-6zM1592 270h4v2h-4zM1596 268h6v2h-6zM1602 266h6v2h-6zM1608 264h4v2h-4zM1612 262h8v2h-8zM1620 260h8v2h-8zM1628 258h28v2h-28zM1656 256h12v2h-12zM1668 254h8v2h-8zM1676 252h28v2h-28zM1704 250h28v2h-28zM1732 252h8v2h-8zM1740 254h12v2h-12zM1752 256h56v2h-56z" fill="#f2f2f2" shape-rendering="crispEdges"/>
<path d="M190 662h6v2h-6zM196 660h8v2h-8zM204 658h28v2h-28zM232 656h16v2h-16zM248 654h10v2h-10zM258 652h6v2h-6zM264 650h4v2h-4zM268 648h28v2h-28zM296 650h8v2h-8zM304 648h4v2h-4zM308 646h4v2h-4zM312 644h2v2h-2zM314 642h4v2h-4zM318 640h4v2h-4zM322 638h4v2h-4zM326 636h4v2h-4zM330 634h4v2h-4zM334 632h4v2h-4zM338 630h4v2h-4zM342 628h4v2h-4zM346 626h4v2h-4zM350 624h4v2h-4zM354 622h4v2h-4zM358 620h4v2h-4zM362 618h4v2h-4zM366 616h6v2h-6zM372 614h8v2h-8zM380 612h6v2h-6zM386 610h6v2h-6zM392 608h4v2h-4zM396 606h8v2h-8zM404 604h8v2h-8zM412 602h6v2h-6zM418 600h4v2h-4zM422 598h4v2h-4zM426 596h4v2h-4zM430 594h4v2h-4zM434 592h4v2h-4zM438 590h4v2h-4zM442 588h4v2h-4zM446 586h4v2h-4zM450 584h6v2h-6zM456 582h4v2h-4zM460 580h4v2h-4zM464 578h4v2h-4zM468 576h2v2h-2zM470 574h2v2h-2zM472 572h4v2h-4zM476 570h2v2h-2zM478 568h2v2h-2zM480 566h4v2h-4zM484 564h2v2h-2zM486 562h2v2h-2zM488 560h4v2h-4zM492 558h2v2h-2zM494 556h4v2h-4zM498 554h4v2h-4zM502 552h4v2h-4zM506 550h4v2h-4zM510 548h2v2h-2zM512 546h4v2h-4zM516 544h2v2h-2zM518 542h2v2h-2zM520 540h4v2h-4zM524 538h2v2h-2zM526 536h2v2h-2zM528 534h4v2h-4zM532 532h4v2h-4zM536 530h2v2h-2zM538 528h4v2h-4zM542 526h2v2h-2zM544 524h4v2h-4zM548 522h4v2h-4zM552 520h2v2h-2zM554 518h4v2h-4zM558 516h2v2h-2zM560 514h4v2h-4zM564 512h4v2h-4zM568 510h2v2h-2zM570 508h4v2h-4zM574 506h2v2h-2zM576 504h4v2h-4zM580 502h4v2h-4zM584 500h2v2h-2zM586 498h4v2h-4zM590 496h6v2h-6zM596 494h8v2h-8zM604 492h6v2h-6zM610 490h6v2h-6zM616 488h4v2h-4zM620 486h6v2h-6zM626 484h6v2h-6zM632 482h4v2h-4zM636 480h6v2h-6zM642 478h6v2h-6zM648 476h4v2h-4zM652 474h6v2h-6zM658 472h6v2h-6zM664 470h4v2h-4zM668 468h6v2h-6zM674 466h6v2h-6zM680 464h4v2h-4zM684 462h12v2h-12zM696 460h32v2h-32zM728 458h16v2h-16zM744 460h16v2h-16zM760 462h28v2h-28zM788 464h8v2h-8zM796 466h12v2h-12zM808 468h10v2h-10zM818 470h6v2h-6zM824 472h4v2h-4zM828 474h12v2h-12zM840 476h10v2h-10zM850 478h6v2h-6zM856 480h4v2h-4zM860 482h12v2h-12zM872 484h16v2h-16zM888 486h10v2h-10zM898 484h4v2h-4zM902 482h4v2h-4zM906 480h4v2h-4zM910 478h4v2h-4zM914 476h6v2h-6zM920 474h4v2h-4zM924 472h6v2h-6zM930 470h6v2h-6zM936 468h4v2h-4zM940 466h4v2h-4zM944 464h4v2h-4zM948 462h4v2h-4zM952 460h2v2h-2zM954 458h4v2h-4zM958 456h2v2h-2zM960 454h2v2h-2zM962 452h2v2h-2zM964 450h4v2h-4zM968 448h2v2h-2zM970 446h2v2h-2zM972 444h2v2h-2zM974 442h2v2h-2zM976 440h4v2h-4zM980 438h4v2h-4zM984 436h2v2h-2zM986 434h4v2h-4zM990 432h4v2h-4zM994 430h6v2h-6zM1000 428h4v2h-4zM1004 426h8v2h-8zM1012 424h8v2h-8zM1020 422h6v2h-6zM1026 420h6v2h-6zM1032 418h4v2h-4zM1036 416h8v2h-8zM1044 414h8v2h-8zM1052 412h6v2h-6zM1058 410h4v2h-4zM1062 408h4v2h-4zM1066 406h4v2h-4zM1070 404h2v2h-2zM1072 402h4v2h-4zM1076 400h4v2h-4zM1080 398h2v2h-2zM1082 396h4v2h-4zM1086 394h2v2h-2zM1088 392h2v2h-2zM1090 390h2v2h-2zM1092 388h2v2h-2zM1094 386h2v2h-2zM1096 384h2v2h-2zM1098 382h2v2h-2zM1100 380h2v2h-2zM1102 378h2v2h-2zM1104 376h4v2h-4zM1108 374h4v2h-4zM1112 372h2v2h-2zM1114 370h4v2h-4zM1118 368h2v2h-2zM1120 366h4v2h-4zM1124 364h2v2h-2zM1126 362h2v2h-2zM1128 360h4v2h-4zM1132 358h2v2h-2zM1134 356h4v2h-4zM1138 354h4v2h-4zM1142 352h4v2h-4zM1146 350h4v2h-4zM1150 348h22v2h-22zM1172 350h8v2h-8zM1180 352h12v2h-12zM1192 354h12v2h-12zM1204 352h8v2h-8zM1212 350h4v2h-4zM1216 348h4v2h-4zM1220 346h2v2h-2zM1222 344h2v2h-2zM1224 342h4v2h-4zM1228 340h2v2h-2zM1230 338h2v2h-2zM1232 336h2v2h-2zM1234 334h2v2h-2zM1236 332h2v2h-2zM1238 330h2v2h-2zM1240 328h2v2h-2zM1242 326h2v2h-2zM1244 324h2v2h-2zM1246 322h2v2h-2zM1248 320h2v2h-2zM1250 318h2v2h-2zM1252 316h4v2h-4zM1256 314h2v2h-2zM1258 312h2v2h-2zM1260 310h2v2h-2zM1262 308h2v2h-2zM1264 306h4v2h-4zM1268 304h4v2h-4zM1272 302h2v2h-2zM1274 300h4v2h-4zM1278 298h2v2h-2zM1280 294h2v4h-2zM1282 292h2v2h-2zM1284 288h2v4h-2zM1286 286h2v2h-2zM1288 282h2v4h-2zM1290 280h2v2h-2zM1292 276h2v4h-2zM1294 274h2v2h-2zM1296 270h2v4h-2zM1298 268h2v2h-2zM1300 264h2v4h-2zM1302 262h2v2h-2zM1304 258h2v4h-2zM1306 256h2v2h-2zM1308 252h2v4h-2zM1310 248h2v4h-2zM1312 244h2v4h-2zM1314 240h2v4h-2zM1316 236h2v4h-2zM1318 232h2v4h-2zM1320 228h2v4h-2zM1322 224h2v4h-2zM1324 220h2v4h-2zM1326 216h2v4h-2zM1328 214h2v2h-2zM1330 210h2v4h-2zM1332 208h2v2h-2zM1334 206h2v2h-2zM1336 204h2v2h-2zM1338 200h2v4h-2zM1340 198h2v2h-2zM1342 196h2v2h-2zM1344 194h4v2h-4zM1348 192h4v2h-4zM1352 190h2v2h-2zM1354 188h4v2h-4zM1358 186h2v2h-2zM1360 184h2v2h-2zM1362 182h2v2h-2zM1364 180h4v2h-4zM1368 178h2v2h-2zM1370 176h2v2h-2zM1372 174h2v2h-2zM1374 172h2v2h-2zM1376 170h4v2h-4zM1380 168h4v2h-4zM1384 166h2v2h-2zM1386 164h4v2h-4zM1390 162h2v2h-2zM1392 160h4v2h-4zM1396 158h2v2h-2zM1398 156h2v2h-2zM1400 154h4v2h-4zM1404 152h2v2h-2zM1406 150h4v2h-4zM1410 148h6v2h-6zM1416 146h4v2h-4zM1420 144h8v2h-8zM1428 142h8v2h-8zM1436 140h28v2h-28zM1464 142h10v2h-10zM1474 140h6v2h-6zM1480 138h4v2h-4zM1484 136h4v2h-4zM1488 134h4v2h-4zM1492 132h2v2h-2zM1494 130h2v2h-2zM1496 128h4v2h-4zM1500 126h2v2h-2zM1502 124h4v2h-4zM1506 122h4v2h-4zM1510 120h4v2h-4zM1514 118h4v2h-4zM1518 116h6v2h-6zM1524 114h8v2h-8zM1532 112h12v2h-12zM1544 110h16v2h-16zM1560 112h10v2h-10zM1570 114h6v2h-6zM1576 116h4v2h-4zM1580 118h4v2h-4zM1584 120h2v2h-2zM1586 122h2v2h-2zM1588 124h4v2h-4zM1592 126h2v2h-2zM1594 128h2v2h-2zM1596 130h2v2h-2zM1598 132h2v2h-2zM1600 134h2v2h-2zM1602 136h2v2h-2zM1604 138h2v2h-2zM1606 140h2v4h-2zM1608 144h2v2h-2zM1610 146h2v2h-2zM1612 148h2v2h-2zM1614 150h2v2h-2zM1616 152h4v2h-4zM1620 154h2v2h-2zM1622 156h2v2h-2zM1624 158h4v2h-4zM1628 160h2v2h-2zM1630 162h10v2h-10zM1640 164h80v2h-80zM1720 162h8v2h-8zM1728 164h4v2h-4zM1732 166h4v2h-4zM1736 168h2v2h-2zM1738 170h4v2h-4zM1742 172h4v2h-4zM1746 174h6v2h-6zM1752 176h4v2h-4zM1756 178h28v2h-28zM1784 180h16v2h-16zM1800 178h8v2h-8z" fill="#f0f014" shape-rendering="crispEdges"/>
<g shape-rendering="crispEdges">
<rect x="180" y="184" width="1732" height="2" fill="#ffff00"/>
<rect x="180" y="252" width="1732" height="2" fill="#ffff00"/>
<line x1="182" y1="217" x2="1912" y2="217" stroke="#f7a030" stroke-width="2" stroke-dasharray="6 6"/>
</g>
<g fill="#f2f2f2" shape-rendering="crispEdges"><rect x="1336" y="115" width="14" height="2"/><rect x="1342" y="112" width="2" height="8"/></g>
<text x="1351.6" y="110" fill="#e8505b" font-size="25.2" font-family="'Liberation Sans', sans-serif" textLength="90.6" lengthAdjust="spacingAndGlyphs">3499.83</text>
<g shape-rendering="crispEdges">
<rect x="190" y="936" width="2" height="16" fill="#eb4f5d"/>
<rect x="206" y="930" width="2" height="22" fill="#eb4f5d"/>
<rect x="222" y="934" width="2" height="18" fill="#eb4f5d"/>
<rect x="238" y="934" width="2" height="18" fill="#eb4f5d"/>
<rect x="254" y="930" width="2" height="22" fill="#eb4f5d"/>
<rect x="270" y="928" width="2" height="24" fill="#eb4f5d"/>
<rect x="286" y="928" width="2" height="24" fill="#eb4f5d"/>
<rect x="302" y="930" width="2" height="22" fill="#eb4f5d"/>
<rect x="318" y="926" width="2" height="26" fill="#eb4f5d"/>
<rect x="334" y="922" width="2" height="30" fill="#eb4f5d"/>
<rect x="350" y="922" width="2" height="30" fill="#eb4f5d"/>
<rect x="366" y="920" width="2" height="32" fill="#eb4f5d"/>
<rect x="382" y="928" width="2" height="24" fill="#eb4f5d"/>
<rect x="398" y="930" width="2" height="22" fill="#eb4f5d"/>
<rect x="414" y="934" width="2" height="18" fill="#eb4f5d"/>
<rect x="430" y="930" width="2" height="22" fill="#eb4f5d"/>
<rect x="446" y="930" width="2" height="22" fill="#eb4f5d"/>
<rect x="462" y="928" width="2" height="24" fill="#eb4f5d"/>
<rect x="478" y="924" width="2" height="28" fill="#eb4f5d"/>
<rect x="494" y="920" width="2" height="32" fill="#eb4f5d"/>
<rect x="510" y="922" width="2" height="30" fill="#eb4f5d"/>
<rect x="526" y="924" width="2" height="28" fill="#eb4f5d"/>
<rect x="542" y="920" width="2" height="32" fill="#eb4f5d"/>
<rect x="558" y="922" width="2" height="30" fill="#eb4f5d"/>
<rect x="574" y="924" width="2" height="28" fill="#eb4f5d"/>
<rect x="590" y="924" width="2" height="28" fill="#eb4f5d"/>
<rect x="606" y="934" width="2" height="18" fill="#eb4f5d"/>
<rect x="622" y="940" width="2" height="12" fill="#eb4f5d"/>
<rect x="638" y="940" width="2" height="12" fill="#eb4f5d"/>
<rect x="654" y="942" width="2" height="10" fill="#eb4f5d"/>
<rect x="670" y="944" width="2" height="8" fill="#eb4f5d"/>
<rect x="686" y="946" width="2" height="6" fill="#eb4f5d"/>
<rect x="702" y="948" width="2" height="4" fill="#eb4f5d"/>
<rect x="718" y="950" width="2" height="8" fill="#53b98b"/>
<rect x="734" y="950" width="2" height="14" fill="#53b98b"/>
<rect x="750" y="950" width="2" height="26" fill="#53b98b"/>
<rect x="766" y="950" width="2" height="38" fill="#53b98b"/>
<rect x="782" y="950" width="2" height="38" fill="#53b98b"/>
<rect x="798" y="950" width="2" height="32" fill="#53b98b"/>
<rect x="814" y="950" width="2" height="28" fill="#53b98b"/>
<rect x="830" y="950" width="2" height="26" fill="#53b98b"/>
<rect x="846" y="950" width="2" height="26" fill="#53b98b"/>
<rect x="862" y="950" width="2" height="28" fill="#53b98b"/>
<rect x="878" y="950" width="2" height="26" fill="#53b98b"/>
<rect x="894" y="950" width="2" height="20" fill="#53b98b"/>
<rect x="910" y="950" width="2" height="6" fill="#53b98b"/>
<rect x="926" y="946" width="2" height="6" fill="#eb4f5d"/>
<rect x="942" y="940" width="2" height="12" fill="#eb4f5d"/>
<rect x="958" y="932" width="2" height="20" fill="#eb4f5d"/>
<rect x="974" y="926" width="2" height="26" fill="#eb4f5d"/>
<rect x="990" y="924" width="2" height="28" fill="#eb4f5d"/>
<rect x="1006" y="930" width="2" height="22" fill="#eb4f5d"/>
<rect x="1022" y="938" width="2" height="14" fill="#eb4f5d"/>
<rect x="1038" y="942" width="2" height="10" fill="#eb4f5d"/>
<rect x="1054" y="948" width="2" height="4" fill="#eb4f5d"/>
<rect x="1070" y="944" width="2" height="8" fill="#eb4f5d"/>
<rect x="1086" y="940" width="2" height="12" fill="#eb4f5d"/>
<rect x="1102" y="932" width="2" height="20" fill="#eb4f5d"/>
<rect x="1118" y="930" width="2" height="22" fill="#eb4f5d"/>
<rect x="1134" y="928" width="2" height="24" fill="#eb4f5d"/>
<rect x="1150" y="932" width="2" height="20" fill="#eb4f5d"/>
<rect x="1166" y="950" width="2" height="2" fill="#53b98b"/>
<rect x="1182" y="950" width="2" height="26" fill="#53b98b"/>
<rect x="1198" y="950" width="2" height="40" fill="#53b98b"/>
<rect x="1214" y="950" width="2" height="30" fill="#53b98b"/>
<rect x="1230" y="950" width="2" height="8" fill="#53b98b"/>
<rect x="1246" y="930" width="2" height="22" fill="#eb4f5d"/>
<rect x="1262" y="922" width="2" height="30" fill="#eb4f5d"/>
<rect x="1278" y="916" width="2" height="36" fill="#eb4f5d"/>
<rect x="1294" y="894" width="2" height="58" fill="#eb4f5d"/>
<rect x="1310" y="888" width="2" height="64" fill="#eb4f5d"/>
<rect x="1326" y="872" width="2" height="80" fill="#eb4f5d"/>
<rect x="1342" y="876" width="2" height="76" fill="#eb4f5d"/>
<rect x="1358" y="900" width="2" height="52" fill="#eb4f5d"/>
<rect x="1374" y="910" width="2" height="42" fill="#eb4f5d"/>
<rect x="1390" y="926" width="2" height="26" fill="#eb4f5d"/>
<rect x="1406" y="934" width="2" height="18" fill="#eb4f5d"/>
<rect x="1422" y="946" width="2" height="6" fill="#eb4f5d"/>
<rect x="1438" y="950" width="2" height="14" fill="#53b98b"/>
<rect x="1454" y="950" width="2" height="34" fill="#53b98b"/>
<rect x="1470" y="950" width="2" height="48" fill="#53b98b"/>
<rect x="1486" y="950" width="2" height="38" fill="#53b98b"/>
<rect x="1502" y="950" width="2" height="16" fill="#53b98b"/>
<rect x="1518" y="950" width="2" height="14" fill="#53b98b"/>
<rect x="1534" y="950" width="2" height="24" fill="#53b98b"/>
<rect x="1550" y="950" width="2" height="28" fill="#53b98b"/>
<rect x="1566" y="950" width="2" height="48" fill="#53b98b"/>
<rect x="1582" y="950" width="2" height="56" fill="#53b98b"/>
<rect x="1598" y="950" width="2" height="70" fill="#53b98b"/>
<rect x="1614" y="950" width="2" height="70" fill="#53b98b"/>
<rect x="1630" y="950" width="2" height="70" fill="#53b98b"/>
<rect x="1646" y="950" width="2" height="66" fill="#53b98b"/>
<rect x="1662" y="950" width="2" height="50" fill="#53b98b"/>
<rect x="1678" y="950" width="2" height="32" fill="#53b98b"/>
<rect x="1694" y="950" width="2" height="26" fill="#53b98b"/>
<rect x="1710" y="950" width="2" height="8" fill="#53b98b"/>
<rect x="1726" y="948" width="2" height="4" fill="#eb4f5d"/>
<rect x="1742" y="950" width="2" height="4" fill="#53b98b"/>
<rect x="1758" y="950" width="2" height="10" fill="#53b98b"/>
<rect x="1774" y="950" width="2" height="8" fill="#53b98b"/>
<rect x="1790" y="950" width="2" height="12" fill="#53b98b"/>
<rect x="1806" y="950" width="2" height="4" fill="#53b98b"/>
</g>
<path d="M190 956h10v2h-10zM200 954h16v2h-16zM216 952h16v2h-16zM232 950h16v2h-16zM248 948h12v2h-12zM260 946h8v2h-8zM268 944h8v2h-8zM276 942h8v2h-8zM284 940h12v2h-12zM296 938h16v2h-16zM312 936h12v2h-12zM324 934h8v2h-8zM332 932h8v2h-8zM340 930h8v2h-8zM348 928h8v2h-8zM356 926h8v2h-8zM364 924h12v2h-12zM376 922h12v2h-12zM388 920h8v2h-8zM396 918h12v2h-12zM408 916h16v2h-16zM424 914h16v2h-16zM440 912h12v2h-12zM452 910h8v2h-8zM460 908h8v2h-8zM468 906h8v2h-8zM476 904h8v2h-8zM484 902h8v2h-8zM492 900h12v2h-12zM504 898h12v2h-12zM516 896h8v2h-8zM524 894h8v2h-8zM532 892h8v2h-8zM540 890h8v2h-8zM548 888h8v2h-8zM556 886h12v2h-12zM568 884h12v2h-12zM580 882h8v2h-8zM588 880h12v2h-12zM600 878h32v2h-32zM632 876h32v2h-32zM664 874h64v2h-64zM728 876h12v2h-12zM740 878h8v2h-8zM748 880h8v2h-8zM756 882h8v2h-8zM764 884h8v2h-8zM772 886h8v2h-8zM780 888h8v2h-8zM788 890h8v2h-8zM796 892h12v2h-12zM808 894h12v2h-12zM820 896h8v2h-8zM828 898h12v2h-12zM840 900h12v2h-12zM852 902h8v2h-8zM860 904h24v2h-24zM884 906h8v2h-8zM892 908h56v2h-56zM948 906h8v2h-8zM956 904h8v2h-8zM964 902h8v2h-8zM972 900h12v2h-12zM984 898h16v2h-16zM1000 896h16v2h-16zM1016 894h16v2h-16zM1032 892h48v2h-48zM1080 890h16v2h-16zM1096 888h12v2h-12zM1108 886h8v2h-8zM1116 884h12v2h-12zM1128 882h16v2h-16zM1144 880h28v2h-28zM1172 882h8v2h-8zM1180 884h8v2h-8zM1188 886h8v2h-8zM1196 888h8v2h-8zM1204 890h8v2h-8zM1212 892h28v2h-28zM1240 890h12v2h-12zM1252 888h8v2h-8zM1260 886h8v2h-8zM1268 884h8v2h-8zM1276 882h6v2h-6zM1282 880h6v2h-6zM1288 878h4v2h-4zM1292 876h6v2h-6zM1298 874h4v2h-4zM1302 872h4v2h-4zM1306 870h4v2h-4zM1310 868h2v2h-2zM1312 866h4v2h-4zM1316 864h4v2h-4zM1320 862h2v2h-2zM1322 860h4v2h-4zM1326 858h2v2h-2zM1328 856h4v2h-4zM1332 854h4v2h-4zM1336 852h2v2h-2zM1338 850h4v2h-4zM1342 848h4v2h-4zM1346 846h6v2h-6zM1352 844h4v2h-4zM1356 842h6v2h-6zM1362 840h6v2h-6zM1368 838h4v2h-4zM1372 836h12v2h-12zM1384 834h16v2h-16zM1400 832h44v2h-44zM1444 834h8v2h-8zM1452 836h6v2h-6zM1458 838h6v2h-6zM1464 840h4v2h-4zM1468 842h8v2h-8zM1476 844h8v2h-8zM1484 846h12v2h-12zM1496 848h16v2h-16zM1512 850h16v2h-16zM1528 852h12v2h-12zM1540 854h8v2h-8zM1548 856h6v2h-6zM1554 858h6v2h-6zM1560 860h4v2h-4zM1564 862h6v2h-6zM1570 864h6v2h-6zM1576 866h4v2h-4zM1580 868h6v2h-6zM1586 870h4v2h-4zM1590 872h4v2h-4zM1594 874h4v2h-4zM1598 876h2v2h-2zM1600 878h4v2h-4zM1604 880h4v2h-4zM1608 882h2v2h-2zM1610 884h4v2h-4zM1614 886h4v2h-4zM1618 888h4v2h-4zM1622 890h4v2h-4zM1626 892h4v2h-4zM1630 894h4v2h-4zM1634 896h4v2h-4zM1638 898h4v2h-4zM1642 900h4v2h-4zM1646 902h4v2h-4zM1650 904h6v2h-6zM1656 906h4v2h-4zM1660 908h8v2h-8zM1668 910h8v2h-8zM1676 912h12v2h-12zM1688 914h16v2h-16zM1704 916h80v2h-80zM1784 918h24v2h-24z" fill="#f0f014" shape-rendering="crispEdges"/>
<path d="M190 948h6v2h-6zM196 946h8v2h-8zM204 944h12v2h-12zM216 942h16v2h-16zM232 940h12v2h-12zM244 938h8v2h-8zM252 936h8v2h-8zM260 934h8v2h-8zM268 932h12v2h-12zM280 930h16v2h-16zM296 928h10v2h-10zM306 926h6v2h-6zM312 924h4v2h-4zM316 922h8v2h-8zM324 920h8v2h-8zM332 918h6v2h-6zM338 916h6v2h-6zM344 914h4v2h-4zM348 912h12v2h-12zM360 910h32v2h-32zM392 908h28v2h-28zM420 906h8v2h-8zM428 904h12v2h-12zM440 902h12v2h-12zM452 900h8v2h-8zM460 898h6v2h-6zM466 896h6v2h-6zM472 894h4v2h-4zM476 892h6v2h-6zM482 890h6v2h-6zM488 888h4v2h-4zM492 886h12v2h-12zM504 884h16v2h-16zM520 882h10v2h-10zM530 880h6v2h-6zM536 878h4v2h-4zM540 876h8v2h-8zM548 874h8v2h-8zM556 872h8v2h-8zM564 870h8v2h-8zM572 868h24v2h-24zM596 870h8v2h-8zM604 872h44v2h-44zM648 870h32v2h-32zM680 872h26v2h-26zM706 874h6v2h-6zM712 876h4v2h-4zM716 878h8v2h-8zM724 880h8v2h-8zM732 882h6v2h-6zM738 884h6v2h-6zM744 886h4v2h-4zM748 888h4v2h-4zM752 890h4v2h-4zM756 892h2v2h-2zM758 894h2v2h-2zM760 896h4v2h-4zM764 898h2v2h-2zM766 900h6v2h-6zM772 902h8v2h-8zM780 904h12v2h-12zM792 906h16v2h-16zM808 908h16v2h-16zM824 910h16v2h-16zM840 912h12v2h-12zM852 914h8v2h-8zM860 916h12v2h-12zM872 918h16v2h-16zM888 916h10v2h-10zM898 914h6v2h-6zM904 912h4v2h-4zM908 910h6v2h-6zM914 908h6v2h-6zM920 906h4v2h-4zM924 904h12v2h-12zM936 902h10v2h-10zM946 900h6v2h-6zM952 898h4v2h-4zM956 896h6v2h-6zM962 894h4v2h-4zM966 892h4v2h-4zM970 890h4v2h-4zM974 888h10v2h-10zM984 886h32v2h-32zM1016 888h16v2h-16zM1032 890h16v2h-16zM1048 892h12v2h-12zM1060 890h8v2h-8zM1068 888h8v2h-8zM1076 886h8v2h-8zM1084 884h6v2h-6zM1090 882h6v2h-6zM1096 880h4v2h-4zM1100 878h12v2h-12zM1112 876h12v2h-12zM1124 874h8v2h-8zM1132 872h22v2h-22zM1154 874h4v2h-4zM1158 876h4v2h-4zM1162 878h4v2h-4zM1166 880h2v2h-2zM1168 882h2v2h-2zM1170 884h2v2h-2zM1172 886h2v2h-2zM1174 888h2v2h-2zM1176 890h2v2h-2zM1178 892h2v2h-2zM1180 894h2v2h-2zM1182 896h2v2h-2zM1184 898h4v2h-4zM1188 900h2v2h-2zM1190 902h2v2h-2zM1192 904h4v2h-4zM1196 906h2v2h-2zM1198 908h10v2h-10zM1208 906h8v2h-8zM1216 904h2v2h-2zM1218 902h2v2h-2zM1220 900h4v2h-4zM1224 898h2v2h-2zM1226 896h2v2h-2zM1228 894h2v2h-2zM1230 892h2v2h-2zM1232 890h4v2h-4zM1236 888h2v2h-2zM1238 886h2v2h-2zM1240 884h4v2h-4zM1244 882h2v2h-2zM1246 880h2v2h-2zM1248 878h4v2h-4zM1252 876h4v2h-4zM1256 874h2v2h-2zM1258 872h4v2h-4zM1262 870h4v2h-4zM1266 868h6v2h-6zM1272 866h4v2h-4zM1276 864h4v2h-4zM1280 862h2v2h-2zM1282 860h2v2h-2zM1284 858h2v2h-2zM1286 856h2v2h-2zM1288 854h2v2h-2zM1290 852h2v2h-2zM1292 850h2v2h-2zM1294 848h2v2h-2zM1296 846h4v2h-4zM1300 844h2v2h-2zM1302 842h2v2h-2zM1304 840h4v2h-4zM1308 838h2v2h-2zM1310 836h2v2h-2zM1312 834h2v2h-2zM1314 832h2v2h-2zM1316 830h2v2h-2zM1318 826h2v4h-2zM1320 824h2v2h-2zM1322 822h2v2h-2zM1324 820h2v2h-2zM1326 818h4v2h-4zM1330 816h6v2h-6zM1336 814h4v2h-4zM1340 812h8v2h-8zM1348 814h8v2h-8zM1356 816h24v2h-24zM1380 818h8v2h-8zM1388 820h8v2h-8zM1396 822h8v2h-8zM1404 824h6v2h-6zM1410 826h6v2h-6zM1416 828h4v2h-4zM1420 830h6v2h-6zM1426 832h4v2h-4zM1430 834h4v2h-4zM1434 836h4v2h-4zM1438 838h2v2h-2zM1440 840h2v2h-2zM1442 842h2v2h-2zM1444 844h4v2h-4zM1448 846h2v2h-2zM1450 848h2v2h-2zM1452 850h2v2h-2zM1454 852h2v2h-2zM1456 854h4v2h-4zM1460 856h2v2h-2zM1462 858h2v2h-2zM1464 860h4v2h-4zM1468 862h2v2h-2zM1470 864h18v2h-18zM1488 862h4v2h-4zM1492 860h4v2h-4zM1496 858h2v2h-2zM1498 856h4v2h-4zM1502 854h10v2h-10zM1512 856h10v2h-10zM1522 858h4v2h-4zM1526 860h4v2h-4zM1530 862h4v2h-4zM1534 864h6v2h-6zM1540 866h8v2h-8zM1548 868h4v2h-4zM1552 870h2v2h-2zM1554 872h2v2h-2zM1556 874h2v2h-2zM1558 876h2v2h-2zM1560 878h2v2h-2zM1562 880h2v2h-2zM1564 882h2v2h-2zM1566 884h4v2h-4zM1570 886h4v2h-4zM1574 888h4v2h-4zM1578 890h4v2h-4zM1582 892h2v2h-2zM1584 894h2v2h-2zM1586 896h2v4h-2zM1588 900h2v2h-2zM1590 902h2v2h-2zM1592 904h2v2h-2zM1594 906h2v4h-2zM1596 910h2v2h-2zM1598 912h4v2h-4zM1602 914h4v2h-4zM1606 916h4v2h-4zM1610 918h4v2h-4zM1614 920h2v2h-2zM1616 922h4v2h-4zM1620 924h4v2h-4zM1624 926h2v2h-2zM1626 928h4v2h-4zM1630 930h6v2h-6zM1636 932h8v2h-8zM1644 934h12v2h-12zM1656 932h12v2h-12zM1668 930h8v2h-8zM1676 928h8v2h-8zM1684 926h8v2h-8zM1692 924h6v2h-6zM1698 922h6v2h-6zM1704 920h4v2h-4zM1708 918h8v2h-8zM1716 916h8v2h-8zM1724 914h12v2h-12zM1736 916h12v2h-12zM1748 918h8v2h-8zM1756 920h28v2h-28zM1784 922h12v2h-12zM1796 920h8v2h-8zM1804 918h4v2h-4z" fill="#f2f2f2" shape-rendering="crispEdges"/>
<path d="M190 1182h2v2h-2zM192 1180h2v2h-2zM194 1178h2v2h-2zM196 1176h2v2h-2zM198 1172h2v4h-2zM200 1170h2v2h-2zM202 1168h2v2h-2zM204 1166h4v2h-4zM206 1164h2v2h-2zM208 1168h2v4h-2zM210 1172h2v4h-2zM212 1176h2v4h-2zM214 1180h2v4h-2zM216 1184h2v4h-2zM218 1188h2v4h-2zM220 1192h2v4h-2zM222 1196h2v2h-2zM224 1194h2v2h-2zM226 1192h2v2h-2zM228 1190h2v2h-2zM230 1188h2v2h-2zM232 1186h2v2h-2zM234 1184h2v2h-2zM236 1182h2v2h-2zM238 1180h2v2h-2zM240 1178h2v2h-2zM242 1176h2v2h-2zM244 1174h4v2h-4zM248 1172h2v2h-2zM250 1170h2v2h-2zM252 1168h2v2h-2zM254 1166h2v2h-2zM256 1164h2v2h-2zM258 1162h2v2h-2zM260 1160h2v2h-2zM262 1158h2v2h-2zM264 1156h2v2h-2zM266 1154h2v2h-2zM268 1152h2v2h-2zM270 1150h2v2h-2zM272 1152h2v2h-2zM274 1154h2v2h-2zM276 1156h2v2h-2zM278 1158h2v2h-2zM280 1160h2v2h-2zM282 1162h2v2h-2zM284 1164h2v2h-2zM286 1166h4v2h-4zM290 1164h6v2h-6zM296 1162h4v2h-4zM300 1160h4v2h-4zM302 1158h2v2h-2zM304 1154h2v4h-2zM306 1150h2v4h-2zM308 1146h2v4h-2zM310 1142h2v4h-2zM312 1138h2v4h-2zM314 1134h2v4h-2zM316 1130h2v4h-2zM318 1128h4v2h-4zM322 1126h6v2h-6zM328 1124h4v2h-4zM332 1122h12v2h-12zM344 1124h8v2h-8zM352 1122h4v2h-4zM356 1120h2v2h-2zM358 1118h2v2h-2zM360 1116h4v2h-4zM364 1114h4v2h-4zM366 1112h2v2h-2zM368 1116h2v6h-2zM370 1122h2v6h-2zM372 1128h2v6h-2zM374 1134h2v4h-2zM376 1138h2v6h-2zM378 1144h2v6h-2zM380 1150h2v6h-2zM382 1158h2v2h-2zM382 1156h4v2h-4zM386 1154h2v2h-2zM388 1152h2v2h-2zM390 1148h2v4h-2zM392 1146h2v2h-2zM394 1144h2v2h-2zM396 1142h2v2h-2zM398 1140h6v2h-6zM404 1142h8v2h-8zM412 1144h4v2h-4zM416 1140h2v4h-2zM418 1136h2v4h-2zM420 1134h2v2h-2zM422 1130h2v4h-2zM424 1128h2v2h-2zM426 1124h2v4h-2zM428 1120h2v4h-2zM430 1118h4v2h-4zM434 1116h6v2h-6zM440 1114h4v2h-4zM444 1112h6v2h-6zM450 1110h4v2h-4zM454 1108h4v2h-4zM458 1106h4v2h-4zM462 1104h2v2h-2zM464 1102h2v2h-2zM466 1100h2v2h-2zM468 1098h2v2h-2zM470 1096h2v2h-2zM472 1094h2v2h-2zM474 1092h2v2h-2zM476 1090h2v2h-2zM478 1088h2v2h-2zM480 1086h2v2h-2zM482 1084h2v2h-2zM484 1082h4v2h-4zM488 1080h2v2h-2zM490 1078h2v2h-2zM492 1076h2v2h-2zM494 1074h2v2h-2zM496 1076h2v2h-2zM498 1078h2v2h-2zM500 1080h2v2h-2zM502 1082h2v4h-2zM504 1086h2v2h-2zM506 1088h2v2h-2zM508 1090h2v2h-2zM510 1092h6v2h-6zM516 1090h8v2h-8zM524 1088h4v2h-4zM528 1084h2v4h-2zM530 1082h2v2h-2zM532 1080h2v2h-2zM534 1076h2v4h-2zM536 1074h2v2h-2zM538 1072h2v2h-2zM540 1068h2v4h-2zM542 1066h2v2h-2zM544 1068h2v2h-2zM546 1070h2v2h-2zM548 1072h2v2h-2zM550 1074h2v2h-2zM552 1076h2v2h-2zM554 1078h2v2h-2zM556 1080h2v2h-2zM558 1082h6v2h-6zM564 1080h8v2h-8zM572 1078h4v2h-4zM576 1076h4v2h-4zM580 1074h2v2h-2zM582 1072h2v2h-2zM584 1070h4v2h-4zM588 1068h4v2h-4zM590 1066h2v2h-2zM590 1070h2v2h-2zM592 1072h2v8h-2zM594 1080h2v8h-2zM596 1088h2v8h-2zM598 1096h2v8h-2zM600 1104h2v8h-2zM602 1112h2v8h-2zM604 1120h2v8h-2zM606 1128h2v2h-2zM606 1132h2v2h-2zM606 1130h6v2h-6zM612 1128h4v2h-4zM616 1126h2v2h-2zM618 1124h4v2h-4zM622 1122h2v2h-2zM624 1120h2v2h-2zM626 1116h2v4h-2zM628 1114h2v2h-2zM630 1112h2v2h-2zM632 1110h2v2h-2zM634 1106h2v4h-2zM636 1104h2v2h-2zM638 1102h10v2h-10zM648 1104h12v2h-12zM660 1102h8v2h-8zM668 1100h8v2h-8zM676 1102h8v2h-8zM684 1104h4v2h-4zM688 1102h4v2h-4zM692 1100h4v2h-4zM696 1098h2v2h-2zM698 1096h6v2h-6zM702 1094h2v2h-2zM704 1098h2v8h-2zM706 1106h2v6h-2zM708 1112h2v8h-2zM710 1120h2v6h-2zM712 1126h2v8h-2zM714 1134h2v6h-2zM716 1140h2v8h-2zM718 1148h2v2h-2zM718 1150h10v2h-10zM728 1148h8v2h-8zM734 1150h2v2h-2zM736 1152h2v6h-2zM738 1158h2v6h-2zM740 1164h2v6h-2zM742 1170h2v6h-2zM744 1176h2v6h-2zM746 1182h2v6h-2zM748 1188h2v6h-2zM750 1194h2v4h-2zM752 1198h2v2h-2zM754 1200h2v4h-2zM756 1204h2v2h-2zM758 1206h2v2h-2zM760 1208h2v2h-2zM762 1210h2v4h-2zM764 1214h4v2h-4zM766 1216h2v2h-2zM768 1210h2v4h-2zM770 1206h2v4h-2zM772 1202h2v4h-2zM774 1198h2v4h-2zM776 1194h2v4h-2zM778 1190h2v4h-2zM780 1186h2v4h-2zM782 1184h2v2h-2zM784 1182h2v2h-2zM786 1178h2v4h-2zM788 1176h2v2h-2zM790 1174h2v2h-2zM792 1172h2v2h-2zM794 1168h2v4h-2zM796 1166h2v2h-2zM798 1164h10v2h-10zM808 1162h8v2h-8zM816 1164h4v2h-4zM820 1166h4v2h-4zM824 1168h2v2h-2zM826 1170h4v2h-4zM830 1172h18v2h-18zM848 1174h2v4h-2zM850 1178h2v4h-2zM852 1182h2v4h-2zM854 1186h2v2h-2zM856 1188h2v4h-2zM858 1192h2v4h-2zM860 1196h2v4h-2zM862 1200h2v2h-2zM864 1196h2v4h-2zM866 1194h2v2h-2zM868 1190h2v4h-2zM870 1188h2v2h-2zM872 1184h2v4h-2zM874 1182h2v2h-2zM876 1178h2v4h-2zM878 1176h2v2h-2zM880 1174h2v2h-2zM882 1172h2v2h-2zM884 1170h2v2h-2zM886 1166h2v4h-2zM888 1164h2v2h-2zM890 1162h2v2h-2zM892 1160h2v2h-2zM894 1156h2v4h-2zM896 1152h2v4h-2zM898 1148h2v4h-2zM900 1142h2v6h-2zM902 1138h2v4h-2zM904 1132h2v6h-2zM906 1128h2v4h-2zM908 1124h2v4h-2zM910 1122h2v2h-2zM910 1120h20v2h-20zM930 1118h4v2h-4zM934 1116h4v2h-4zM938 1114h4v2h-4zM942 1112h2v2h-2zM944 1110h2v2h-2zM946 1106h2v4h-2zM948 1104h2v2h-2zM950 1102h2v2h-2zM952 1100h2v2h-2zM954 1096h2v4h-2zM956 1094h2v2h-2zM958 1092h4v2h-4zM962 1090h6v2h-6zM968 1088h4v2h-4zM972 1086h12v2h-12zM984 1088h8v2h-8zM990 1090h2v2h-2zM992 1092h2v4h-2zM994 1096h2v4h-2zM996 1100h2v4h-2zM998 1104h2v4h-2zM1000 1108h2v4h-2zM1002 1112h2v4h-2zM1004 1116h2v4h-2zM1006 1120h2v4h-2zM1008 1124h2v2h-2zM1010 1126h2v2h-2zM1012 1128h2v2h-2zM1014 1130h2v2h-2zM1016 1132h2v2h-2zM1018 1134h2v2h-2zM1020 1136h2v2h-2zM1022 1138h4v2h-4zM1026 1136h6v2h-6zM1032 1134h4v2h-4zM1036 1132h12v2h-12zM1048 1134h8v2h-8zM1056 1130h2v4h-2zM1058 1126h2v4h-2zM1060 1122h2v4h-2zM1062 1120h2v2h-2zM1064 1116h2v4h-2zM1066 1112h2v4h-2zM1068 1108h2v4h-2zM1070 1106h2v2h-2zM1072 1104h2v2h-2zM1074 1100h2v4h-2zM1076 1098h2v2h-2zM1078 1096h2v2h-2zM1080 1094h2v2h-2zM1082 1090h2v4h-2zM1084 1088h2v2h-2zM1086 1086h2v2h-2zM1088 1084h2v2h-2zM1090 1082h2v2h-2zM1092 1080h2v2h-2zM1094 1076h2v4h-2zM1096 1074h2v2h-2zM1098 1072h2v2h-2zM1100 1070h2v2h-2zM1102 1068h2v2h-2zM1104 1070h2v2h-2zM1106 1072h2v2h-2zM1108 1074h2v2h-2zM1110 1076h2v2h-2zM1112 1078h2v2h-2zM1114 1080h2v2h-2zM1116 1082h2v2h-2zM1118 1084h2v2h-2zM1120 1082h4v2h-4zM1124 1080h4v2h-4zM1128 1078h2v2h-2zM1130 1076h4v2h-4zM1134 1074h2v2h-2zM1136 1076h2v4h-2zM1138 1080h2v4h-2zM1140 1084h2v4h-2zM1142 1088h2v2h-2zM1144 1090h2v4h-2zM1146 1094h2v4h-2zM1148 1098h2v4h-2zM1150 1102h2v6h-2zM1152 1108h2v12h-2zM1154 1120h2v12h-2zM1156 1132h2v10h-2zM1158 1142h2v12h-2zM1160 1154h2v10h-2zM1162 1164h2v12h-2zM1164 1176h2v12h-2zM1166 1188h2v8h-2zM1168 1196h2v6h-2zM1170 1202h2v4h-2zM1172 1206h2v6h-2zM1174 1212h2v6h-2zM1176 1218h2v6h-2zM1178 1224h2v4h-2zM1180 1228h2v6h-2zM1182 1234h2v2h-2zM1182 1236h18v2h-18zM1198 1232h2v4h-2zM1200 1224h2v8h-2zM1202 1214h2v10h-2zM1204 1206h2v8h-2zM1206 1196h2v10h-2zM1208 1188h2v8h-2zM1210 1178h2v10h-2zM1212 1170h2v8h-2zM1214 1162h2v8h-2zM1216 1158h2v4h-2zM1218 1152h2v6h-2zM1220 1148h2v4h-2zM1222 1142h2v6h-2zM1224 1138h2v4h-2zM1226 1132h2v6h-2zM1228 1128h2v4h-2zM1230 1124h2v4h-2zM1232 1120h2v4h-2zM1234 1118h2v2h-2zM1236 1116h2v2h-2zM1238 1112h2v4h-2zM1240 1110h2v2h-2zM1242 1108h2v2h-2zM1244 1104h2v4h-2zM1246 1102h2v2h-2zM1248 1104h2v2h-2zM1250 1106h2v4h-2zM1252 1110h2v2h-2zM1254 1112h2v2h-2zM1256 1114h2v2h-2zM1258 1116h2v4h-2zM1260 1120h2v2h-2zM1262 1122h4v2h-4zM1266 1120h6v2h-6zM1272 1118h4v2h-4zM1276 1116h4v2h-4zM1278 1114h2v2h-2zM1280 1110h2v4h-2zM1282 1106h2v4h-2zM1284 1102h2v4h-2zM1286 1098h2v4h-2zM1288 1094h2v4h-2zM1290 1090h2v4h-2zM1292 1086h2v4h-2zM1294 1082h2v2h-2zM1294 1084h6v2h-6zM1300 1086h2v2h-2zM1302 1088h2v2h-2zM1304 1090h4v2h-4zM1308 1092h2v2h-2zM1310 1094h2v2h-2zM1312 1090h2v4h-2zM1314 1088h2v2h-2zM1316 1084h2v4h-2zM1318 1082h2v2h-2zM1320 1078h2v4h-2zM1322 1076h2v2h-2zM1324 1074h2v2h-2zM1324 1072h4v2h-4zM1326 1070h2v2h-2zM1328 1074h2v4h-2zM1330 1078h2v4h-2zM1332 1082h2v4h-2zM1334 1086h2v4h-2zM1336 1090h2v4h-2zM1338 1094h2v4h-2zM1340 1098h2v4h-2zM1342 1102h2v4h-2zM1344 1106h2v8h-2zM1346 1114h2v6h-2zM1348 1120h2v6h-2zM1350 1126h2v8h-2zM1352 1134h2v6h-2zM1354 1140h2v6h-2zM1356 1146h2v8h-2zM1358 1156h2v2h-2zM1358 1154h4v2h-4zM1362 1150h2v4h-2zM1364 1148h2v2h-2zM1366 1146h2v2h-2zM1368 1144h2v2h-2zM1370 1140h2v4h-2zM1372 1138h2v2h-2zM1374 1136h2v2h-2zM1376 1138h2v2h-2zM1378 1140h2v2h-2zM1380 1142h2v2h-2zM1382 1144h2v4h-2zM1384 1148h2v2h-2zM1386 1150h2v2h-2zM1388 1152h2v2h-2zM1390 1154h2v2h-2zM1392 1152h4v2h-4zM1396 1150h4v2h-4zM1400 1148h2v2h-2zM1402 1146h4v2h-4zM1406 1144h2v2h-2zM1408 1146h2v2h-2zM1410 1148h2v2h-2zM1412 1150h2v2h-2zM1414 1152h2v2h-2zM1416 1154h2v2h-2zM1418 1156h2v2h-2zM1420 1158h2v2h-2zM1422 1160h2v2h-2zM1424 1162h2v2h-2zM1426 1164h2v2h-2zM1428 1166h4v2h-4zM1432 1168h2v2h-2zM1434 1170h2v2h-2zM1436 1172h2v2h-2zM1438 1174h2v2h-2zM1440 1176h2v4h-2zM1442 1180h2v4h-2zM1444 1184h2v2h-2zM1446 1186h2v4h-2zM1448 1190h2v2h-2zM1450 1192h2v4h-2zM1452 1196h2v4h-2zM1454 1200h18v2h-18zM1470 1198h2v2h-2zM1472 1194h2v4h-2zM1474 1190h2v4h-2zM1476 1184h2v6h-2zM1478 1180h2v4h-2zM1480 1174h2v6h-2zM1482 1170h2v4h-2zM1484 1166h2v4h-2zM1486 1160h2v6h-2zM1488 1156h2v4h-2zM1490 1152h2v4h-2zM1492 1148h2v4h-2zM1494 1144h2v4h-2zM1496 1140h2v4h-2zM1498 1136h2v4h-2zM1500 1134h2v2h-2zM1500 1132h4v2h-4zM1502 1130h2v2h-2zM1504 1134h2v4h-2zM1506 1138h2v4h-2zM1508 1142h2v4h-2zM1510 1146h2v4h-2zM1512 1150h2v4h-2zM1514 1154h2v4h-2zM1516 1158h2v4h-2zM1518 1162h2v4h-2zM1520 1166h2v4h-2zM1522 1170h2v4h-2zM1524 1174h2v4h-2zM1526 1178h2v2h-2zM1528 1180h2v4h-2zM1530 1184h2v4h-2zM1532 1188h2v4h-2zM1534 1192h4v2h-4zM1538 1190h4v2h-4zM1542 1188h4v2h-4zM1546 1186h6v2h-6zM1550 1184h2v2h-2zM1552 1188h2v4h-2zM1554 1192h2v4h-2zM1556 1196h2v6h-2zM1558 1202h2v4h-2zM1560 1206h2v6h-2zM1562 1212h2v4h-2zM1564 1216h2v4h-2zM1566 1220h2v2h-2zM1566 1222h4v2h-4zM1570 1220h6v2h-6zM1576 1218h4v2h-4zM1580 1216h4v2h-4zM1584 1218h2v4h-2zM1586 1222h2v2h-2zM1588 1224h2v4h-2zM1590 1228h2v2h-2zM1592 1230h2v4h-2zM1594 1234h2v2h-2zM1596 1236h2v4h-2zM1598 1240h2v2h-2zM1600 1236h2v4h-2zM1602 1234h2v2h-2zM1604 1232h2v2h-2zM1606 1228h2v4h-2zM1608 1226h2v2h-2zM1610 1224h2v2h-2zM1612 1220h2v4h-2zM1614 1218h2v2h-2zM1616 1220h2v2h-2zM1618 1222h2v2h-2zM1620 1224h4v2h-4zM1624 1226h2v2h-2zM1626 1228h2v2h-2zM1628 1230h2v2h-2zM1630 1232h2v2h-2zM1632 1230h4v2h-4zM1636 1228h2v2h-2zM1638 1226h2v2h-2zM1640 1224h4v2h-4zM1644 1222h2v2h-2zM1646 1220h2v2h-2zM1648 1216h2v4h-2zM1650 1214h2v2h-2zM1652 1210h2v4h-2zM1654 1208h2v2h-2zM1656 1204h2v4h-2zM1658 1202h2v2h-2zM1660 1198h2v4h-2zM1662 1196h4v2h-4zM1666 1194h4v2h-4zM1670 1192h4v2h-4zM1674 1190h4v2h-4zM1678 1188h4v2h-4zM1682 1190h4v2h-4zM1686 1192h4v2h-4zM1690 1194h4v2h-4zM1694 1196h2v2h-2zM1696 1192h2v4h-2zM1698 1190h2v2h-2zM1700 1186h2v4h-2zM1702 1184h2v2h-2zM1704 1180h2v4h-2zM1706 1178h2v2h-2zM1708 1174h2v4h-2zM1710 1172h4v2h-4zM1714 1174h6v2h-6zM1720 1176h4v2h-4zM1724 1178h4v2h-4zM1728 1180h2v4h-2zM1730 1184h2v2h-2zM1732 1186h2v2h-2zM1734 1188h2v4h-2zM1736 1192h2v2h-2zM1738 1194h2v2h-2zM1740 1196h2v4h-2zM1742 1200h4v2h-4zM1746 1202h6v2h-6zM1752 1204h4v2h-4zM1756 1206h4v2h-4zM1760 1204h4v2h-4zM1764 1202h2v2h-2zM1766 1200h2v2h-2zM1768 1198h4v2h-4zM1772 1196h2v2h-2zM1774 1194h2v2h-2zM1776 1196h2v2h-2zM1778 1198h2v2h-2zM1780 1200h4v2h-4zM1784 1202h2v2h-2zM1786 1204h2v2h-2zM1788 1206h2v2h-2zM1790 1208h2v2h-2zM1792 1204h2v4h-2zM1794 1200h2v4h-2zM1796 1196h2v4h-2zM1798 1194h2v2h-2zM1800 1190h2v4h-2zM1802 1186h2v4h-2zM1804 1182h2v4h-2zM1806 1180h2v2h-2z" fill="#e61ee6" shape-rendering="crispEdges"/>
<text x="184" y="28.5" fill="#e8e8e8" font-size="24" font-family="'Liberation Sans', 'Noto Sans CJK SC', sans-serif" font-weight="300">现货黄金</text>
<text x="279.5" y="28.5" fill="#ff6a00" font-size="24" font-family="'Liberation Sans', 'Noto Sans CJK SC', sans-serif" font-weight="500">【</text>
<text x="305.5" y="28.5" fill="#ff6a00" font-size="24" font-family="'Liberation Sans', 'Noto Sans CJK SC', sans-serif" font-weight="300" textLength="48" lengthAdjust="spacingAndGlyphs">日线</text>
<text x="354" y="28.5" fill="#ff6a00" font-size="24" font-family="'Liberation Sans', 'Noto Sans CJK SC', sans-serif" font-weight="500">】</text>
<g stroke="#ff6a00" stroke-width="1.6" fill="none"><circle cx="386.5" cy="22" r="7.5"/><line x1="379" y1="22" x2="394" y2="22"/><line x1="386.5" y1="14.5" x2="386.5" y2="29.5"/></g>
<g shape-rendering="crispEdges"><rect x="414" y="6" width="22" height="24" fill="#9a9aa8"/><rect x="411" y="3" width="22" height="24" fill="#fff" stroke="#2a2ad0" stroke-width="2"/></g>
<polyline points="413,15 417,11 420,14 424,9 427,13 431,10" fill="none" stroke="#e01818" stroke-width="2"/>
<polyline points="413,22 417,17 420,21 424,16 427,20 431,17" fill="none" stroke="#1818e0" stroke-width="2"/>
<text x="440.6" y="27.5" fill="#f2f2f2" font-size="25.2" font-family="'Liberation Sans', sans-serif" textLength="278.1" lengthAdjust="spacingAndGlyphs">BOLL(26,2) MID:3295.04</text>
<text x="734.6" y="27.5" fill="#c8c81e" font-size="25.2" font-family="'Liberation Sans', sans-serif" textLength="171.6" lengthAdjust="spacingAndGlyphs">UPPER:3409.08</text>
<text x="921.6" y="27.5" fill="#d428d4" font-size="25.2" font-family="'Liberation Sans', sans-serif" textLength="183.1" lengthAdjust="spacingAndGlyphs">LOWER:3181.00</text>
<text x="184.6" y="796.5" fill="#f2f2f2" font-size="25.2" font-family="'Liberation Sans', sans-serif" textLength="298.1" lengthAdjust="spacingAndGlyphs">MACD(26,12,9) DIFF:22.85</text>
<text x="498.1" y="796.5" fill="#c8c81e" font-size="25.2" font-family="'Liberation Sans', sans-serif" textLength="114.6" lengthAdjust="spacingAndGlyphs">DEA:23.11</text>
<text x="630.6" y="796.5" fill="#d428d4" font-size="25.2" font-family="'Liberation Sans', sans-serif" textLength="136.6" lengthAdjust="spacingAndGlyphs">MACD:-0.51</text>
<text x="183.6" y="1050" fill="#f2f2f2" font-size="25.2" font-family="'Liberation Sans', sans-serif" textLength="278.1" lengthAdjust="spacingAndGlyphs">RSI(14,14,14) RSI1:56.63</text>
<text x="478.1" y="1050" fill="#c8c81e" font-size="25.2" font-family="'Liberation Sans', sans-serif" textLength="119.6" lengthAdjust="spacingAndGlyphs">RSI2:56.63</text>
<text x="613.6" y="1050" fill="#d428d4" font-size="25.2" font-family="'Liberation Sans', sans-serif" textLength="120.6" lengthAdjust="spacingAndGlyphs">RSI3:56.63</text>
<text x="82.9" y="50" fill="#f2f2f2" font-size="25.2" font-family="'Liberation Sans', sans-serif" textLength="91.8" lengthAdjust="spacingAndGlyphs">3606.05</text>
<text x="1917.1" y="50" fill="#f2f2f2" font-size="25.2" font-family="'Liberation Sans', sans-serif" textLength="91.8" lengthAdjust="spacingAndGlyphs">3606.05</text>
<text x="82.9" y="170" fill="#f2f2f2" font-size="25.2" font-family="'Liberation Sans', sans-serif" textLength="91.8" lengthAdjust="spacingAndGlyphs">3429.25</text>
<text x="1917.1" y="170" fill="#f2f2f2" font-size="25.2" font-family="'Liberation Sans', sans-serif" textLength="91.8" lengthAdjust="spacingAndGlyphs">3429.25</text>
<text x="82.9" y="292" fill="#f2f2f2" font-size="25.2" font-family="'Liberation Sans', sans-serif" textLength="91.8" lengthAdjust="spacingAndGlyphs">3252.46</text>
<text x="1917.1" y="292" fill="#f2f2f2" font-size="25.2" font-family="'Liberation Sans', sans-serif" textLength="91.8" lengthAdjust="spacingAndGlyphs">3252.46</text>
<text x="82.9" y="412" fill="#f2f2f2" font-size="25.2" font-family="'Liberation Sans', sans-serif" textLength="91.8" lengthAdjust="spacingAndGlyphs">3075.67</text>
<text x="1917.1" y="412" fill="#f2f2f2" font-size="25.2" font-family="'Liberation Sans', sans-serif" textLength="91.8" lengthAdjust="spacingAndGlyphs">3075.67</text>
<text x="82.9" y="534" fill="#f2f2f2" font-size="25.2" font-family="'Liberation Sans', sans-serif" textLength="91.8" lengthAdjust="spacingAndGlyphs">2898.88</text>
<text x="1917.1" y="534" fill="#f2f2f2" font-size="25.2" font-family="'Liberation Sans', sans-serif" textLength="91.8" lengthAdjust="spacingAndGlyphs">2898.88</text>
<text x="82.9" y="654" fill="#f2f2f2" font-size="25.2" font-family="'Liberation Sans', sans-serif" textLength="91.8" lengthAdjust="spacingAndGlyphs">2722.09</text>
<text x="1917.1" y="654" fill="#f2f2f2" font-size="25.2" font-family="'Liberation Sans', sans-serif" textLength="91.8" lengthAdjust="spacingAndGlyphs">2722.09</text>
<text x="110.4" y="818" fill="#f2f2f2" font-size="25.2" font-family="'Liberation Sans', sans-serif" textLength="64.3" lengthAdjust="spacingAndGlyphs">99.97</text>
<text x="1917.1" y="818" fill="#f2f2f2" font-size="25.2" font-family="'Liberation Sans', sans-serif" textLength="64.3" lengthAdjust="spacingAndGlyphs">99.97</text>
<text x="110.4" y="870" fill="#f2f2f2" font-size="25.2" font-family="'Liberation Sans', sans-serif" textLength="64.3" lengthAdjust="spacingAndGlyphs">62.34</text>
<text x="1917.1" y="870" fill="#f2f2f2" font-size="25.2" font-family="'Liberation Sans', sans-serif" textLength="64.3" lengthAdjust="spacingAndGlyphs">62.34</text>
<text x="110.4" y="922" fill="#f2f2f2" font-size="25.2" font-family="'Liberation Sans', sans-serif" textLength="64.3" lengthAdjust="spacingAndGlyphs">24.72</text>
<text x="1917.1" y="922" fill="#f2f2f2" font-size="25.2" font-family="'Liberation Sans', sans-serif" textLength="64.3" lengthAdjust="spacingAndGlyphs">24.72</text>
<text x="103.5" y="974" fill="#f2f2f2" font-size="25.2" font-family="'Liberation Sans', sans-serif" textLength="71.2" lengthAdjust="spacingAndGlyphs">-12.90</text>
<text x="1917.1" y="974" fill="#f2f2f2" font-size="25.2" font-family="'Liberation Sans', sans-serif" textLength="71.2" lengthAdjust="spacingAndGlyphs">-12.90</text>
<text x="110.4" y="1072" fill="#f2f2f2" font-size="25.2" font-family="'Liberation Sans', sans-serif" textLength="64.3" lengthAdjust="spacingAndGlyphs">78.38</text>
<text x="1917.1" y="1072" fill="#f2f2f2" font-size="25.2" font-family="'Liberation Sans', sans-serif" textLength="64.3" lengthAdjust="spacingAndGlyphs">78.38</text>
<text x="110.4" y="1130" fill="#f2f2f2" font-size="25.2" font-family="'Liberation Sans', sans-serif" textLength="64.3" lengthAdjust="spacingAndGlyphs">67.14</text>
<text x="1917.1" y="1130" fill="#f2f2f2" font-size="25.2" font-family="'Liberation Sans', sans-serif" textLength="64.3" lengthAdjust="spacingAndGlyphs">67.14</text>
<text x="110.4" y="1190" fill="#f2f2f2" font-size="25.2" font-family="'Liberation Sans', sans-serif" textLength="64.3" lengthAdjust="spacingAndGlyphs">55.90</text>
<text x="1917.1" y="1190" fill="#f2f2f2" font-size="25.2" font-family="'Liberation Sans', sans-serif" textLength="64.3" lengthAdjust="spacingAndGlyphs">55.90</text>
<text x="1821.1" y="178" fill="#ffff00" font-size="25.2" font-family="'Liberation Sans', sans-serif" textLength="90.6" lengthAdjust="spacingAndGlyphs">3400.00</text>
<text x="1821.1" y="246" fill="#ffff00" font-size="25.2" font-family="'Liberation Sans', sans-serif" textLength="90.6" lengthAdjust="spacingAndGlyphs">3300.00</text>
<rect x="1913" y="217" width="136" height="34" fill="#000" stroke="#f7a030" stroke-width="2" shape-rendering="crispEdges"/>
<text x="1917.1" y="242" fill="#f7a030" font-size="25.2" font-family="'Liberation Sans', sans-serif" textLength="92.1" lengthAdjust="spacingAndGlyphs">3352.88</text>
<rect x="2032" y="200" width="16" height="16" fill="#050505"/>
<path d="M2040 201 L2047 208 L2033 208 Z M2040 208 L2047 216 L2033 216 Z" fill="#f7a030"/>
<text x="466.0" y="1268" fill="#ffffff" font-size="24.8" font-family="'Liberation Sans', sans-serif" font-weight="bold" textLength="91.0" lengthAdjust="spacingAndGlyphs">2025/02</text>
<text x="786.3" y="1268" fill="#ffffff" font-size="24.8" font-family="'Liberation Sans', sans-serif" font-weight="bold" textLength="91.0" lengthAdjust="spacingAndGlyphs">2025/03</text>
<text x="1122.3" y="1268" fill="#ffffff" font-size="24.8" font-family="'Liberation Sans', sans-serif" font-weight="bold" textLength="91.0" lengthAdjust="spacingAndGlyphs">2025/04</text>
<text x="1457.8" y="1268" fill="#ffffff" font-size="24.8" font-family="'Liberation Sans', sans-serif" font-weight="bold" textLength="91.0" lengthAdjust="spacingAndGlyphs">2025/05</text>
<text x="67" y="1274.5" fill="#ff6a00" font-size="26" font-family="'Liberation Sans', 'Noto Sans CJK SC', sans-serif" font-weight="bold" textLength="52" lengthAdjust="spacingAndGlyphs">日线</text>
<path d="M138.5 1255 L148 1273 L129 1273 Z" fill="#ff6a00"/>
<rect x="1334" y="1290" width="2" height="2" fill="#ff6a00"/>
<rect x="1818" y="1283" width="234" height="1" fill="#262626"/>
<text x="1922.1" y="1288.5" fill="#eaeaf2" font-size="30.5" font-family="'Liberation Sans', sans-serif" textLength="101.6" lengthAdjust="spacingAndGlyphs">FX678</text>
<g stroke="#ff1010" stroke-width="2" shape-rendering="crispEdges">
<line x1="67.0" y1="1035.0" x2="71.0" y2="1035.0"/>
<line x1="64.1" y1="1042.1" x2="66.9" y2="1044.9"/>
<line x1="57.0" y1="1045.0" x2="57.0" y2="1049.0"/>
<line x1="49.9" y1="1042.1" x2="47.1" y2="1044.9"/>
<line x1="47.0" y1="1035.0" x2="43.0" y2="1035.0"/>
<line x1="49.9" y1="1027.9" x2="47.1" y2="1025.1"/>
<line x1="57.0" y1="1025.0" x2="57.0" y2="1021.0"/>
<line x1="64.1" y1="1027.9" x2="66.9" y2="1025.1"/>
</g>
<circle cx="57" cy="1035" r="7.5" fill="#fff" stroke="#000" stroke-width="2"/><path d="M55 1031h4v2h2v4h-2v2h-4v-2h-2v-4h2z" fill="#ff1010"/>
<g shape-rendering="crispEdges">
<rect x="1784" y="0" width="128" height="32" fill="#050505"/>
<rect x="1787" y="3" width="26" height="26" fill="#080808" stroke="#b4b4b4" stroke-width="2"/>
<rect x="1819" y="3" width="26" height="26" fill="#080808" stroke="#b4b4b4" stroke-width="2"/>
<rect x="1851" y="3" width="26" height="26" fill="#080808" stroke="#b4b4b4" stroke-width="2"/>
<rect x="1883" y="3" width="26" height="26" fill="#080808" stroke="#b4b4b4" stroke-width="2"/>
<g fill="#b0b0b0">
<rect x="1798" y="6" width="4" height="6"/><rect x="1798" y="20" width="4" height="6"/><rect x="1790" y="14" width="6" height="4"/><rect x="1804" y="14" width="6" height="4"/><rect x="1798" y="14" width="4" height="4"/>
<rect x="1824" y="6" width="2" height="20"/><rect x="1822" y="8" width="6" height="2"/><rect x="1822" y="22" width="20" height="2"/><rect x="1838" y="20" width="2" height="6"/>
<rect x="1856" y="6" width="2" height="20"/><rect x="1854" y="8" width="6" height="2"/><rect x="1854" y="22" width="20" height="2"/><rect x="1870" y="20" width="2" height="6"/>
<rect x="1830" y="8" width="2" height="12"/><rect x="1832" y="13" width="4" height="2"/>
<path d="M1838 8 L1838 20 L1833 14 Z"/>
<path d="M1862 8 L1872 15 L1862 22 Z"/>
<path d="M1886 6h8v20h-8z M1888 8v16h4v-16z" fill-rule="evenodd"/><rect x="1890" y="14" width="10" height="2"/><path d="M1898 10 L1904 15 L1898 20 Z"/>
</g></g>
</svg>
<div id="tabline"></div>
<div class="tab tw" style="left:40px;top:1284px;width:78px;height:30px"></div><div class="tab tw" style="left:120px;top:1284px;width:78px;height:30px"></div><div class="tab to" style="left:200px;top:1282px;width:114px;height:30px"></div><div class="tab tg" style="left:316px;top:1284px;width:150px;height:30px"></div><div class="tab tg" style="left:468px;top:1284px;width:114px;height:30px"></div><div class="tab tg" style="left:584px;top:1284px;width:114px;height:30px"></div><div class="tab tg" style="left:700px;top:1284px;width:102px;height:30px"></div><div class="tab tg" style="left:804px;top:1284px;width:103px;height:30px"></div><div class="tab tg" style="left:909px;top:1284px;width:137px;height:30px"></div><div class="tab tg" style="left:1048px;top:1284px;width:90px;height:30px"></div><div class="tab tg" style="left:1140px;top:1284px;width:102px;height:30px"></div><div class="tab tg" style="left:1244px;top:1284px;width:90px;height:30px"></div><div class="tab tg" style="left:1336px;top:1290px;width:115px;height:24px"></div><div class="tab tg" style="left:1453px;top:1290px;width:102px;height:24px"></div><div class="tab tg" style="left:1557px;top:1290px;width:150px;height:24px"></div><div class="tab tg" style="left:1709px;top:1290px;width:53px;height:24px"></div>
<svg width="2052" height="1314" viewBox="0 0 2052 1314" style="position:absolute;left:0;top:0;pointer-events:none">
<text x="55.0" y="1306.5" fill="#fff" font-size="24" font-weight="300" font-family="'Liberation Sans', 'Noto Sans CJK SC', sans-serif" textLength="48">指标</text>
<text x="135.0" y="1306.5" fill="#fff" font-size="24" font-weight="300" font-family="'Liberation Sans', 'Noto Sans CJK SC', sans-serif" textLength="48">模板</text>
<text x="215.0" y="1305.5" fill="#fff" font-size="22.5" font-family="'Liberation Serif', 'Noto Serif CJK SC', serif" textLength="35" lengthAdjust="spacingAndGlyphs">VIP</text>
<text x="251.0" y="1306.5" fill="#fff" font-size="24" font-weight="300" font-family="'Liberation Sans', 'Noto Sans CJK SC', sans-serif" textLength="48">指标</text>
<text x="331.5" y="1305.5" fill="#c6c6c6" font-size="22.5" font-family="'Liberation Serif', 'Noto Serif CJK SC', serif" textLength="119" lengthAdjust="spacingAndGlyphs">BARUPDN_UD</text>
<text x="483.5" y="1305.5" fill="#c6c6c6" font-size="22.5" font-family="'Liberation Serif', 'Noto Serif CJK SC', serif" textLength="83" lengthAdjust="spacingAndGlyphs">BIAS_UD</text>
<text x="599.5" y="1305.5" fill="#c6c6c6" font-size="22.5" font-family="'Liberation Serif', 'Noto Serif CJK SC', serif" textLength="83" lengthAdjust="spacingAndGlyphs">BOLL_UD</text>
<text x="715.5" y="1305.5" fill="#c6c6c6" font-size="22.5" font-family="'Liberation Serif', 'Noto Serif CJK SC', serif" textLength="71" lengthAdjust="spacingAndGlyphs">CCI_UD</text>
<text x="820.0" y="1305.5" fill="#c6c6c6" font-size="22.5" font-family="'Liberation Serif', 'Noto Serif CJK SC', serif" textLength="71" lengthAdjust="spacingAndGlyphs">DMI_UD</text>
<text x="924.0" y="1305.5" fill="#c6c6c6" font-size="22.5" font-family="'Liberation Serif', 'Noto Serif CJK SC', serif" textLength="107" lengthAdjust="spacingAndGlyphs">INSIDE_UD</text>
<text x="1063.5" y="1305.5" fill="#c6c6c6" font-size="22.5" font-family="'Liberation Serif', 'Noto Serif CJK SC', serif" textLength="59" lengthAdjust="spacingAndGlyphs">KD_UD</text>
<text x="1155.5" y="1305.5" fill="#c6c6c6" font-size="22.5" font-family="'Liberation Serif', 'Noto Serif CJK SC', serif" textLength="71" lengthAdjust="spacingAndGlyphs">KDJ_UD</text>
<text x="1259.5" y="1305.5" fill="#c6c6c6" font-size="22.5" font-family="'Liberation Serif', 'Noto Serif CJK SC', serif" textLength="59" lengthAdjust="spacingAndGlyphs">MA_UD</text>
<text x="1352.0" y="1305.5" fill="#c6c6c6" font-size="22.5" font-family="'Liberation Serif', 'Noto Serif CJK SC', serif" textLength="83" lengthAdjust="spacingAndGlyphs">MACD_UD</text>
<text x="1468.5" y="1305.5" fill="#c6c6c6" font-size="22.5" font-family="'Liberation Serif', 'Noto Serif CJK SC', serif" textLength="71" lengthAdjust="spacingAndGlyphs">MTM_UD</text>
<text x="1572.5" y="1305.5" fill="#c6c6c6" font-size="22.5" font-family="'Liberation Serif', 'Noto Serif CJK SC', serif" textLength="119" lengthAdjust="spacingAndGlyphs">OUTSIDE_UD</text>
<text x="1724.0" y="1305.5" fill="#c6c6c6" font-size="22.5" font-family="'Liberation Serif', 'Noto Serif CJK SC', serif" textLength="23" lengthAdjust="spacingAndGlyphs">&gt;&gt;</text>
</svg>
</div>
</body></html>
